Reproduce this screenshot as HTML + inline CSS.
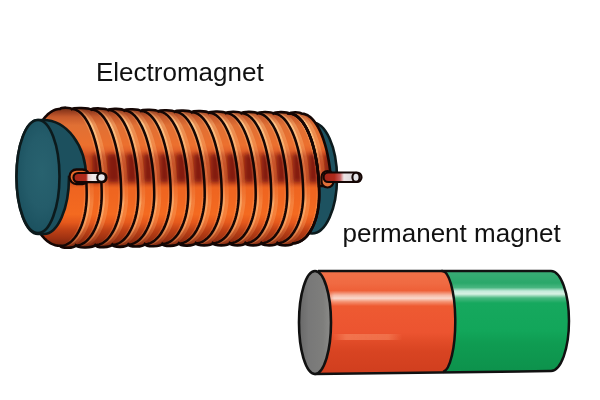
<!DOCTYPE html>
<html><head><meta charset="utf-8"><style>
html,body{margin:0;padding:0;background:#fff;}
body{width:600px;height:400px;overflow:hidden;position:relative;}
svg{position:absolute;left:0;top:0;}
text{font-family:"Liberation Sans",sans-serif;}
</style></head><body>
<svg width="600" height="400" viewBox="0 0 600 400">
<defs>
<linearGradient id="copper" gradientUnits="userSpaceOnUse" x1="0" y1="107" x2="0" y2="248">
<stop offset="0" stop-color="#6a2a14"/>
<stop offset="0.035" stop-color="#9a4020"/>
<stop offset="0.07" stop-color="#c65a2c"/>
<stop offset="0.13" stop-color="#e07034"/>
<stop offset="0.27" stop-color="#ec702e"/>
<stop offset="0.31" stop-color="#e2622a"/>
<stop offset="0.35" stop-color="#c84c22"/>
<stop offset="0.53" stop-color="#c84c20"/>
<stop offset="0.575" stop-color="#ee6420"/>
<stop offset="0.76" stop-color="#f46a20"/>
<stop offset="0.82" stop-color="#e4581c"/>
<stop offset="0.87" stop-color="#c04216"/>
<stop offset="0.93" stop-color="#a03212"/>
<stop offset="1" stop-color="#6a200c"/>
</linearGradient>
<linearGradient id="peachg" gradientUnits="userSpaceOnUse" x1="0" y1="107" x2="0" y2="248">
<stop offset="0" stop-color="#f8b070" stop-opacity="0"/>
<stop offset="0.04" stop-color="#f8b070" stop-opacity="0.3"/>
<stop offset="0.12" stop-color="#fcc488" stop-opacity="1"/>
<stop offset="0.30" stop-color="#f8b070" stop-opacity="0.9"/>
<stop offset="0.40" stop-color="#f09058" stop-opacity="0.55"/>
<stop offset="0.55" stop-color="#f09058" stop-opacity="0.45"/>
<stop offset="0.68" stop-color="#f8a868" stop-opacity="0.95"/>
<stop offset="0.85" stop-color="#f8a868" stop-opacity="0.8"/>
<stop offset="0.95" stop-color="#f09858" stop-opacity="0.4"/>
<stop offset="1" stop-color="#f8a868" stop-opacity="0"/>
</linearGradient>
<filter id="blur3" x="-50%" y="-50%" width="200%" height="200%"><feGaussianBlur stdDeviation="2.0"/></filter>
<filter id="blur05"><feGaussianBlur stdDeviation="0.6"/></filter>
<clipPath id="bodyclip"><path d="M60.00,245.80 L58.82,245.76 L57.65,245.64 L56.47,245.45 L55.31,245.17 L54.15,244.82 L53.00,244.40 L51.86,243.89 L50.73,243.31 L49.62,242.66 L48.52,241.93 L47.44,241.13 L46.38,240.26 L45.34,239.32 L44.33,238.31 L43.33,237.24 L42.37,236.10 L41.43,234.89 L40.52,233.63 L39.64,232.30 L38.79,230.92 L37.97,229.48 L37.19,227.99 L36.44,226.45 L35.73,224.86 L35.06,223.22 L34.42,221.54 L33.83,219.82 L33.27,218.06 L32.76,216.27 L32.28,214.44 L31.85,212.58 L31.47,210.70 L31.13,208.79 L30.83,206.86 L30.58,204.91 L30.37,202.95 L30.21,200.97 L30.09,198.99 L30.02,196.99 L30.00,195.00 L25.03,191.62 L25.11,188.25 L25.24,184.89 L25.43,181.55 L25.67,178.22 L25.97,174.92 L26.31,171.66 L26.71,168.42 L27.16,165.23 L27.66,162.09 L28.21,159.00 L28.81,155.96 L29.46,152.98 L30.16,150.07 L30.90,147.22 L31.68,144.45 L32.51,141.76 L33.39,139.15 L34.30,136.62 L35.25,134.19 L36.24,131.85 L37.27,129.61 L38.33,127.46 L39.43,125.42 L40.56,123.49 L41.71,121.67 L42.90,119.97 L44.11,118.37 L45.35,116.90 L46.61,115.55 L47.89,114.32 L49.18,113.21 L50.50,112.23 L51.83,111.38 L53.17,110.65 L54.52,110.06 L55.89,109.60 L57.25,109.27 L58.63,109.07 L60.00,109.00 C61.40,107.20 70.30,107.25 71.70,109.05 C74.04,107.25 88.86,107.77 91.20,109.57 C93.24,107.77 106.16,108.22 108.20,110.02 C110.12,108.22 122.28,108.65 124.20,110.45 C126.18,108.65 138.72,109.09 140.70,110.89 C142.80,109.09 156.10,109.55 158.20,111.35 C160.18,109.55 172.72,109.99 174.70,111.79 C176.74,109.99 189.66,110.45 191.70,112.25 C193.74,110.45 206.66,110.90 208.70,112.70 C210.74,110.90 223.66,111.24 225.70,113.04 C227.56,111.24 239.34,111.36 241.20,113.16 C243.12,111.36 255.28,111.48 257.20,113.28 C259.12,111.48 271.28,111.60 273.20,113.40 C275.12,111.60 287.28,111.72 289.20,113.52 L289.20,113.52 L290.41,113.59 L291.61,113.78 L292.82,114.11 L294.01,114.57 L295.20,115.17 L296.38,115.89 L297.55,116.74 L298.70,117.71 L299.84,118.81 L300.96,120.04 L302.06,121.39 L303.14,122.85 L304.20,124.44 L305.23,126.13 L306.24,127.94 L307.22,129.86 L308.17,131.88 L309.09,134.01 L309.98,136.24 L310.84,138.56 L311.66,140.97 L312.44,143.47 L313.18,146.05 L313.89,148.71 L314.56,151.45 L315.18,154.26 L315.76,157.13 L316.30,160.07 L316.80,163.06 L317.25,166.11 L317.66,169.20 L318.02,172.33 L318.33,175.50 L318.59,178.70 L318.81,181.93 L318.98,185.18 L319.10,188.44 L319.18,191.72 L319.20,195.00 L319.16,197.61 L319.05,200.21 L318.86,202.80 L318.59,205.36 L318.25,207.89 L317.84,210.39 L317.35,212.84 L316.80,215.24 L316.17,217.58 L315.48,219.85 L314.72,222.05 L313.90,224.17 L313.02,226.20 L312.08,228.15 L311.08,229.99 L310.03,231.74 L308.93,233.37 L307.79,234.89 L306.60,236.30 L305.38,237.59 L304.12,238.75 L302.82,239.78 L301.50,240.68 L300.16,241.44 L298.79,242.07 L297.41,242.57 L296.01,242.92 L294.61,243.13 L293.20,243.20 C291.28,246.08 279.12,246.08 277.20,243.20 C275.28,246.08 263.12,246.08 261.20,243.20 C259.28,246.08 247.12,246.08 245.20,243.20 C243.34,246.08 231.56,246.08 229.70,243.20 C227.66,246.08 214.74,246.08 212.70,243.20 C210.66,246.08 197.74,246.16 195.70,243.28 C193.66,246.16 180.74,246.48 178.70,243.60 C176.72,246.48 164.18,246.78 162.20,243.90 C160.10,246.78 146.80,247.11 144.70,244.23 C142.72,247.11 130.18,247.41 128.20,244.53 C126.28,247.41 114.12,247.71 112.20,244.83 C110.16,247.71 97.24,248.03 95.20,245.15 C92.86,248.03 78.04,248.39 75.70,245.51 C73.82,248.39 61.88,248.68 60.00,245.80 Z"/><path d="M289.20,113.52 C290.68,111.72 300.02,111.81 301.50,113.61 L301.50,113.61 L302.71,113.68 L303.91,113.88 L305.12,114.20 L306.31,114.67 L307.50,115.26 L308.68,115.98 L309.85,116.82 L311.00,117.80 L312.14,118.90 L313.26,120.12 L314.36,121.47 L315.44,122.93 L316.50,124.52 L317.53,126.21 L318.54,128.02 L319.52,129.93 L320.47,131.96 L321.39,134.08 L322.28,136.30 L323.14,138.62 L323.96,141.03 L324.74,143.53 L325.48,146.11 L326.19,148.77 L326.86,151.50 L327.48,154.31 L328.06,157.18 L328.60,160.11 L329.10,163.10 L329.55,166.14 L329.96,169.23 L330.32,172.36 L330.63,175.52 L330.89,178.72 C331.20,184 329.50,186.00 326,186.00 L318.98,186.00 L318.98,185.18 L318.81,181.93 L318.59,178.70 L318.33,175.50 L318.02,172.33 L317.66,169.20 L317.25,166.11 L316.80,163.06 L316.30,160.07 L315.76,157.13 L315.18,154.26 L314.56,151.45 L313.89,148.71 L313.18,146.05 L312.44,143.47 L311.66,140.97 L310.84,138.56 L309.98,136.24 L309.09,134.01 L308.17,131.88 L307.22,129.86 L306.24,127.94 L305.23,126.13 L304.20,124.44 L303.14,122.85 L302.06,121.39 L300.96,120.04 L299.84,118.81 L298.70,117.71 L297.55,116.74 L296.38,115.89 L295.20,115.17 L294.01,114.57 L292.82,114.11 L291.61,113.78 L290.41,113.59 L289.20,113.52 Z"/></clipPath>
<radialGradient id="teal" gradientUnits="userSpaceOnUse" cx="42" cy="172" r="60" gradientTransform="translate(42 172) scale(0.45 1) translate(-42 -172)">
<stop offset="0" stop-color="#28626f"/>
<stop offset="0.6" stop-color="#245c6a"/>
<stop offset="1" stop-color="#1c5260"/>
</radialGradient>
<linearGradient id="redg" gradientUnits="userSpaceOnUse" x1="0" y1="271" x2="0" y2="374">
<stop offset="0" stop-color="#f27248"/>
<stop offset="0.12" stop-color="#f06a42"/>
<stop offset="0.19" stop-color="#ee6038"/>
<stop offset="0.235" stop-color="#f6b8a4"/>
<stop offset="0.265" stop-color="#fad8cc"/>
<stop offset="0.30" stop-color="#f49070"/>
<stop offset="0.34" stop-color="#ee5a32"/>
<stop offset="0.6" stop-color="#ec5430"/>
<stop offset="0.68" stop-color="#e24c28"/>
<stop offset="0.78" stop-color="#d84422"/>
<stop offset="1" stop-color="#d03e1e"/>
</linearGradient>
<linearGradient id="redstreak2" x1="0" y1="0" x2="1" y2="0">
<stop offset="0" stop-color="#f47c56" stop-opacity="0"/>
<stop offset="0.2" stop-color="#f47c56" stop-opacity="0.8"/>
<stop offset="0.8" stop-color="#f47c56" stop-opacity="0.7"/>
<stop offset="1" stop-color="#f47c56" stop-opacity="0"/>
</linearGradient>
<linearGradient id="wireL" gradientUnits="userSpaceOnUse" x1="73" y1="0" x2="106" y2="0">
<stop offset="0" stop-color="#a82818"/>
<stop offset="0.4" stop-color="#b02a1c"/>
<stop offset="0.46" stop-color="#e8c8c8"/>
<stop offset="0.6" stop-color="#f2eaea"/>
<stop offset="1" stop-color="#d8d4d8"/>
</linearGradient>
<linearGradient id="wireR" gradientUnits="userSpaceOnUse" x1="323" y1="0" x2="361" y2="0">
<stop offset="0" stop-color="#a02418"/>
<stop offset="0.3" stop-color="#b02a1c"/>
<stop offset="0.45" stop-color="#c86060"/>
<stop offset="0.55" stop-color="#ece4e4"/>
<stop offset="0.8" stop-color="#d8d4d8"/>
<stop offset="1" stop-color="#c8c8cc"/>
</linearGradient>
<linearGradient id="redfade" x1="0" y1="0" x2="1" y2="0">
<stop offset="0" stop-color="#ee5a32" stop-opacity="0.8"/>
<stop offset="0.15" stop-color="#ee5a32" stop-opacity="0"/>
<stop offset="1" stop-color="#ee5a32" stop-opacity="0"/>
</linearGradient>
<linearGradient id="greeng" gradientUnits="userSpaceOnUse" x1="0" y1="271" x2="0" y2="371">
<stop offset="0" stop-color="#3aac76"/>
<stop offset="0.12" stop-color="#2aa86a"/>
<stop offset="0.165" stop-color="#48b680"/>
<stop offset="0.20" stop-color="#c4eada"/>
<stop offset="0.23" stop-color="#d8f2e4"/>
<stop offset="0.27" stop-color="#48b880"/>
<stop offset="0.32" stop-color="#16a85e"/>
<stop offset="0.6" stop-color="#12a65a"/>
<stop offset="0.72" stop-color="#0f9c52"/>
<stop offset="1" stop-color="#0d924c"/>
</linearGradient>
<linearGradient id="greyg" x1="0" y1="0" x2="1" y2="0">
<stop offset="0" stop-color="#686868"/>
<stop offset="0.3" stop-color="#787878"/>
<stop offset="0.75" stop-color="#7e7e7c"/>
<stop offset="1" stop-color="#8c8c8a"/>
</linearGradient>
</defs>

<g style="will-change:transform"><text x="96" y="80.5" font-size="26" fill="#111">Electromagnet</text>
<text x="342.5" y="241.5" font-size="26" fill="#111">permanent magnet</text></g>

<!-- back teal disk -->
<ellipse cx="312" cy="178" rx="25" ry="55.5" fill="#1d5260" stroke="#0c1a1c" stroke-width="2.6"/>

<!-- coil body -->
<path d="M289.20,113.52 C290.68,111.72 300.02,111.81 301.50,113.61 L301.50,113.61 L302.71,113.68 L303.91,113.88 L305.12,114.20 L306.31,114.67 L307.50,115.26 L308.68,115.98 L309.85,116.82 L311.00,117.80 L312.14,118.90 L313.26,120.12 L314.36,121.47 L315.44,122.93 L316.50,124.52 L317.53,126.21 L318.54,128.02 L319.52,129.93 L320.47,131.96 L321.39,134.08 L322.28,136.30 L323.14,138.62 L323.96,141.03 L324.74,143.53 L325.48,146.11 L326.19,148.77 L326.86,151.50 L327.48,154.31 L328.06,157.18 L328.60,160.11 L329.10,163.10 L329.55,166.14 L329.96,169.23 L330.32,172.36 L330.63,175.52 L330.89,178.72 C331.20,184 329.50,186.00 326,186.00 L318.98,186.00 L318.98,185.18 L318.81,181.93 L318.59,178.70 L318.33,175.50 L318.02,172.33 L317.66,169.20 L317.25,166.11 L316.80,163.06 L316.30,160.07 L315.76,157.13 L315.18,154.26 L314.56,151.45 L313.89,148.71 L313.18,146.05 L312.44,143.47 L311.66,140.97 L310.84,138.56 L309.98,136.24 L309.09,134.01 L308.17,131.88 L307.22,129.86 L306.24,127.94 L305.23,126.13 L304.20,124.44 L303.14,122.85 L302.06,121.39 L300.96,120.04 L299.84,118.81 L298.70,117.71 L297.55,116.74 L296.38,115.89 L295.20,115.17 L294.01,114.57 L292.82,114.11 L291.61,113.78 L290.41,113.59 L289.20,113.52 Z" fill="url(#copper)"/>
<path d="M60.00,245.80 L58.82,245.76 L57.65,245.64 L56.47,245.45 L55.31,245.17 L54.15,244.82 L53.00,244.40 L51.86,243.89 L50.73,243.31 L49.62,242.66 L48.52,241.93 L47.44,241.13 L46.38,240.26 L45.34,239.32 L44.33,238.31 L43.33,237.24 L42.37,236.10 L41.43,234.89 L40.52,233.63 L39.64,232.30 L38.79,230.92 L37.97,229.48 L37.19,227.99 L36.44,226.45 L35.73,224.86 L35.06,223.22 L34.42,221.54 L33.83,219.82 L33.27,218.06 L32.76,216.27 L32.28,214.44 L31.85,212.58 L31.47,210.70 L31.13,208.79 L30.83,206.86 L30.58,204.91 L30.37,202.95 L30.21,200.97 L30.09,198.99 L30.02,196.99 L30.00,195.00 L25.03,191.62 L25.11,188.25 L25.24,184.89 L25.43,181.55 L25.67,178.22 L25.97,174.92 L26.31,171.66 L26.71,168.42 L27.16,165.23 L27.66,162.09 L28.21,159.00 L28.81,155.96 L29.46,152.98 L30.16,150.07 L30.90,147.22 L31.68,144.45 L32.51,141.76 L33.39,139.15 L34.30,136.62 L35.25,134.19 L36.24,131.85 L37.27,129.61 L38.33,127.46 L39.43,125.42 L40.56,123.49 L41.71,121.67 L42.90,119.97 L44.11,118.37 L45.35,116.90 L46.61,115.55 L47.89,114.32 L49.18,113.21 L50.50,112.23 L51.83,111.38 L53.17,110.65 L54.52,110.06 L55.89,109.60 L57.25,109.27 L58.63,109.07 L60.00,109.00 C61.40,107.20 70.30,107.25 71.70,109.05 C74.04,107.25 88.86,107.77 91.20,109.57 C93.24,107.77 106.16,108.22 108.20,110.02 C110.12,108.22 122.28,108.65 124.20,110.45 C126.18,108.65 138.72,109.09 140.70,110.89 C142.80,109.09 156.10,109.55 158.20,111.35 C160.18,109.55 172.72,109.99 174.70,111.79 C176.74,109.99 189.66,110.45 191.70,112.25 C193.74,110.45 206.66,110.90 208.70,112.70 C210.74,110.90 223.66,111.24 225.70,113.04 C227.56,111.24 239.34,111.36 241.20,113.16 C243.12,111.36 255.28,111.48 257.20,113.28 C259.12,111.48 271.28,111.60 273.20,113.40 C275.12,111.60 287.28,111.72 289.20,113.52 L289.20,113.52 L290.41,113.59 L291.61,113.78 L292.82,114.11 L294.01,114.57 L295.20,115.17 L296.38,115.89 L297.55,116.74 L298.70,117.71 L299.84,118.81 L300.96,120.04 L302.06,121.39 L303.14,122.85 L304.20,124.44 L305.23,126.13 L306.24,127.94 L307.22,129.86 L308.17,131.88 L309.09,134.01 L309.98,136.24 L310.84,138.56 L311.66,140.97 L312.44,143.47 L313.18,146.05 L313.89,148.71 L314.56,151.45 L315.18,154.26 L315.76,157.13 L316.30,160.07 L316.80,163.06 L317.25,166.11 L317.66,169.20 L318.02,172.33 L318.33,175.50 L318.59,178.70 L318.81,181.93 L318.98,185.18 L319.10,188.44 L319.18,191.72 L319.20,195.00 L319.16,197.61 L319.05,200.21 L318.86,202.80 L318.59,205.36 L318.25,207.89 L317.84,210.39 L317.35,212.84 L316.80,215.24 L316.17,217.58 L315.48,219.85 L314.72,222.05 L313.90,224.17 L313.02,226.20 L312.08,228.15 L311.08,229.99 L310.03,231.74 L308.93,233.37 L307.79,234.89 L306.60,236.30 L305.38,237.59 L304.12,238.75 L302.82,239.78 L301.50,240.68 L300.16,241.44 L298.79,242.07 L297.41,242.57 L296.01,242.92 L294.61,243.13 L293.20,243.20 C291.28,246.08 279.12,246.08 277.20,243.20 C275.28,246.08 263.12,246.08 261.20,243.20 C259.28,246.08 247.12,246.08 245.20,243.20 C243.34,246.08 231.56,246.08 229.70,243.20 C227.66,246.08 214.74,246.08 212.70,243.20 C210.66,246.08 197.74,246.16 195.70,243.28 C193.66,246.16 180.74,246.48 178.70,243.60 C176.72,246.48 164.18,246.78 162.20,243.90 C160.10,246.78 146.80,247.11 144.70,244.23 C142.72,247.11 130.18,247.41 128.20,244.53 C126.28,247.41 114.12,247.71 112.20,244.83 C110.16,247.71 97.24,248.03 95.20,245.15 C92.86,248.03 78.04,248.39 75.70,245.51 C73.82,248.39 61.88,248.68 60.00,245.80 Z" fill="url(#copper)"/>
<g clip-path="url(#bodyclip)">
<g fill="#7a1808" filter="url(#blur3)" opacity="0.9">
<rect x="92.20" y="154" width="8.50" height="28" rx="2"/>
<rect x="107.20" y="154" width="13.00" height="28" rx="2"/>
<rect x="126.70" y="154" width="10.50" height="28" rx="2"/>
<rect x="143.70" y="154" width="9.50" height="28" rx="2"/>
<rect x="159.70" y="154" width="10.00" height="28" rx="2"/>
<rect x="176.20" y="154" width="11.00" height="28" rx="2"/>
<rect x="193.70" y="154" width="10.00" height="28" rx="2"/>
<rect x="210.20" y="154" width="10.50" height="28" rx="2"/>
<rect x="227.20" y="154" width="10.50" height="28" rx="2"/>
<rect x="244.20" y="154" width="10.50" height="28" rx="2"/>
<rect x="261.20" y="154" width="9.00" height="28" rx="2"/>
<rect x="276.70" y="154" width="9.50" height="28" rx="2"/>
<rect x="292.70" y="154" width="9.50" height="28" rx="2"/>
<rect x="308.70" y="154" width="9.50" height="28" rx="2"/>
<rect x="324.70" y="154" width="5.30" height="28" rx="2"/>
</g>
<g fill="none" stroke="url(#peachg)" filter="url(#blur05)">
<path d="M88.29,177.80 L88.51,181.20 L88.68,184.63 L88.80,188.08 L88.88,191.54 L88.90,195.00 L88.86,197.75 L88.75,200.49 L88.56,203.22 L88.29,205.92 L87.95,208.59 L87.54,211.22 L87.05,213.80 L86.50,216.32 L85.87,218.79 L85.18,221.18 L84.42,223.50 L83.60,225.73 L82.72,227.88 L81.78,229.93 L80.78,231.87 L79.73,233.71 L78.63,235.43 L77.49,237.04 L76.30,238.52 L75.08,239.87 L73.82,241.09 L72.52,242.18 L71.20,243.13 L69.86,243.94 L68.49,244.60 L67.11,245.12 L65.71,245.49 L64.31,245.71 L62.90,245.79" stroke-width="2.4"/>
<path d="M91.09,177.80 L91.31,181.20 L91.48,184.63 L91.60,188.08 L91.68,191.54 L91.70,195.00 L91.66,197.75 L91.55,200.49 L91.36,203.22 L91.09,205.92 L90.75,208.59 L90.34,211.22 L89.85,213.80 L89.30,216.32 L88.67,218.79 L87.98,221.18 L87.22,223.50 L86.40,225.73 L85.52,227.88 L84.58,229.93 L83.58,231.87 L82.53,233.71 L81.43,235.43 L80.29,237.04 L79.10,238.52 L77.88,239.87 L76.62,241.09 L75.32,242.18 L74.00,243.13 L72.66,243.94 L71.29,244.60 L69.91,245.12 L68.51,245.49 L67.11,245.71 L65.70,245.79" stroke-width="4" stroke-opacity="0.4"/>
<path d="M84.09,177.80 L84.31,181.20 L84.48,184.63 L84.60,188.08 L84.68,191.54 L84.70,195.00 L84.66,197.75 L84.55,200.49 L84.36,203.22 L84.09,205.92 L83.75,208.59 L83.34,211.22 L82.85,213.80 L82.30,216.32 L81.67,218.79 L80.98,221.18 L80.22,223.50 L79.40,225.73 L78.52,227.88 L77.58,229.93 L76.58,231.87 L75.53,233.71 L74.43,235.43 L73.29,237.04 L72.10,238.52 L70.88,239.87 L69.62,241.09 L68.32,242.18 L67.00,243.13 L65.66,243.94 L64.29,244.60 L62.91,245.12 L61.51,245.49 L60.11,245.71 L58.70,245.79" stroke-width="1.5" stroke-opacity="0.35"/>
<path d="M73.90,109.05 L75.11,109.12 L76.31,109.32 L77.52,109.67 L78.71,110.16 L79.90,110.78 L81.08,111.54 L82.25,112.44 L83.40,113.47 L84.54,114.63 L85.66,115.92 L86.76,117.34 L87.84,118.89 L88.90,120.56 L89.93,122.35 L90.94,124.26 L91.92,126.28 L92.87,128.42 L93.79,130.66 L94.68,133.01 L95.54,135.46 L96.36,138.00 L97.14,140.64 L97.88,143.36 L98.59,146.17 L99.26,149.06 L99.88,152.02 L100.46,155.05 L101.00,158.15 L101.50,161.31 L101.95,164.52 L102.36,167.78 L102.72,171.09 L103.03,174.43 L103.29,177.81 L103.51,181.21 L103.68,184.64 L103.80,188.08 L103.88,191.54 L103.90,195.00 L103.86,197.73 L103.75,200.46 L103.56,203.17 L103.29,205.86 L102.95,208.51 L102.54,211.13 L102.05,213.70 L101.50,216.21 L100.87,218.66 L100.18,221.04 L99.42,223.34 L98.60,225.57 L97.72,227.70 L96.78,229.73 L95.78,231.67 L94.73,233.50 L93.63,235.21 L92.49,236.81 L91.30,238.28 L90.08,239.62 L88.82,240.84 L87.52,241.92 L86.20,242.86 L84.86,243.67 L83.49,244.33 L82.11,244.84 L80.71,245.21 L79.31,245.43 L77.90,245.51" stroke-width="2.4"/>
<path d="M76.70,109.05 L77.91,109.12 L79.11,109.32 L80.32,109.67 L81.51,110.16 L82.70,110.78 L83.88,111.54 L85.05,112.44 L86.20,113.47 L87.34,114.63 L88.46,115.92 L89.56,117.34 L90.64,118.89 L91.70,120.56 L92.73,122.35 L93.74,124.26 L94.72,126.28 L95.67,128.42 L96.59,130.66 L97.48,133.01 L98.34,135.46 L99.16,138.00 L99.94,140.64 L100.68,143.36 L101.39,146.17 L102.06,149.06 L102.68,152.02 L103.26,155.05 L103.80,158.15 L104.30,161.31 L104.75,164.52 L105.16,167.78 L105.52,171.09 L105.83,174.43 L106.09,177.81 L106.31,181.21 L106.48,184.64 L106.60,188.08 L106.68,191.54 L106.70,195.00 L106.66,197.73 L106.55,200.46 L106.36,203.17 L106.09,205.86 L105.75,208.51 L105.34,211.13 L104.85,213.70 L104.30,216.21 L103.67,218.66 L102.98,221.04 L102.22,223.34 L101.40,225.57 L100.52,227.70 L99.58,229.73 L98.58,231.67 L97.53,233.50 L96.43,235.21 L95.29,236.81 L94.10,238.28 L92.88,239.62 L91.62,240.84 L90.32,241.92 L89.00,242.86 L87.66,243.67 L86.29,244.33 L84.91,244.84 L83.51,245.21 L82.11,245.43 L80.70,245.51" stroke-width="4" stroke-opacity="0.4"/>
<path d="M69.70,109.05 L70.91,109.12 L72.11,109.32 L73.32,109.67 L74.51,110.16 L75.70,110.78 L76.88,111.54 L78.05,112.44 L79.20,113.47 L80.34,114.63 L81.46,115.92 L82.56,117.34 L83.64,118.89 L84.70,120.56 L85.73,122.35 L86.74,124.26 L87.72,126.28 L88.67,128.42 L89.59,130.66 L90.48,133.01 L91.34,135.46 L92.16,138.00 L92.94,140.64 L93.68,143.36 L94.39,146.17 L95.06,149.06 L95.68,152.02 L96.26,155.05 L96.80,158.15 L97.30,161.31 L97.75,164.52 L98.16,167.78 L98.52,171.09 L98.83,174.43 L99.09,177.81 L99.31,181.21 L99.48,184.64 L99.60,188.08 L99.68,191.54 L99.70,195.00 L99.66,197.73 L99.55,200.46 L99.36,203.17 L99.09,205.86 L98.75,208.51 L98.34,211.13 L97.85,213.70 L97.30,216.21 L96.67,218.66 L95.98,221.04 L95.22,223.34 L94.40,225.57 L93.52,227.70 L92.58,229.73 L91.58,231.67 L90.53,233.50 L89.43,235.21 L88.29,236.81 L87.10,238.28 L85.88,239.62 L84.62,240.84 L83.32,241.92 L82.00,242.86 L80.66,243.67 L79.29,244.33 L77.91,244.84 L76.51,245.21 L75.11,245.43 L73.70,245.51" stroke-width="1.5" stroke-opacity="0.35"/>
<path d="M93.40,109.57 L94.61,109.63 L95.81,109.84 L97.02,110.19 L98.21,110.67 L99.40,111.29 L100.58,112.05 L101.75,112.94 L102.90,113.96 L104.04,115.12 L105.16,116.40 L106.26,117.81 L107.34,119.35 L108.40,121.01 L109.43,122.79 L110.44,124.69 L111.42,126.70 L112.37,128.82 L113.29,131.05 L114.18,133.38 L115.04,135.82 L115.86,138.35 L116.64,140.97 L117.38,143.68 L118.09,146.47 L118.76,149.34 L119.38,152.28 L119.96,155.30 L120.50,158.37 L121.00,161.51 L121.45,164.70 L121.86,167.95 L122.22,171.23 L122.53,174.55 L122.79,177.91 L123.01,181.30 L123.18,184.70 L123.30,188.13 L123.38,191.56 L123.40,195.00 L123.36,197.71 L123.25,200.42 L123.06,203.11 L122.79,205.78 L122.45,208.42 L122.04,211.01 L121.55,213.56 L121.00,216.06 L120.37,218.49 L119.68,220.85 L118.92,223.14 L118.10,225.35 L117.22,227.46 L116.28,229.49 L115.28,231.41 L114.23,233.22 L113.13,234.92 L111.99,236.51 L110.80,237.97 L109.58,239.30 L108.32,240.51 L107.02,241.58 L105.70,242.52 L104.36,243.32 L102.99,243.97 L101.61,244.49 L100.21,244.85 L98.81,245.07 L97.40,245.15" stroke-width="2.4"/>
<path d="M96.20,109.57 L97.41,109.63 L98.61,109.84 L99.82,110.19 L101.01,110.67 L102.20,111.29 L103.38,112.05 L104.55,112.94 L105.70,113.96 L106.84,115.12 L107.96,116.40 L109.06,117.81 L110.14,119.35 L111.20,121.01 L112.23,122.79 L113.24,124.69 L114.22,126.70 L115.17,128.82 L116.09,131.05 L116.98,133.38 L117.84,135.82 L118.66,138.35 L119.44,140.97 L120.18,143.68 L120.89,146.47 L121.56,149.34 L122.18,152.28 L122.76,155.30 L123.30,158.37 L123.80,161.51 L124.25,164.70 L124.66,167.95 L125.02,171.23 L125.33,174.55 L125.59,177.91 L125.81,181.30 L125.98,184.70 L126.10,188.13 L126.18,191.56 L126.20,195.00 L126.16,197.71 L126.05,200.42 L125.86,203.11 L125.59,205.78 L125.25,208.42 L124.84,211.01 L124.35,213.56 L123.80,216.06 L123.17,218.49 L122.48,220.85 L121.72,223.14 L120.90,225.35 L120.02,227.46 L119.08,229.49 L118.08,231.41 L117.03,233.22 L115.93,234.92 L114.79,236.51 L113.60,237.97 L112.38,239.30 L111.12,240.51 L109.82,241.58 L108.50,242.52 L107.16,243.32 L105.79,243.97 L104.41,244.49 L103.01,244.85 L101.61,245.07 L100.20,245.15" stroke-width="4" stroke-opacity="0.4"/>
<path d="M89.20,109.57 L90.41,109.63 L91.61,109.84 L92.82,110.19 L94.01,110.67 L95.20,111.29 L96.38,112.05 L97.55,112.94 L98.70,113.96 L99.84,115.12 L100.96,116.40 L102.06,117.81 L103.14,119.35 L104.20,121.01 L105.23,122.79 L106.24,124.69 L107.22,126.70 L108.17,128.82 L109.09,131.05 L109.98,133.38 L110.84,135.82 L111.66,138.35 L112.44,140.97 L113.18,143.68 L113.89,146.47 L114.56,149.34 L115.18,152.28 L115.76,155.30 L116.30,158.37 L116.80,161.51 L117.25,164.70 L117.66,167.95 L118.02,171.23 L118.33,174.55 L118.59,177.91 L118.81,181.30 L118.98,184.70 L119.10,188.13 L119.18,191.56 L119.20,195.00 L119.16,197.71 L119.05,200.42 L118.86,203.11 L118.59,205.78 L118.25,208.42 L117.84,211.01 L117.35,213.56 L116.80,216.06 L116.17,218.49 L115.48,220.85 L114.72,223.14 L113.90,225.35 L113.02,227.46 L112.08,229.49 L111.08,231.41 L110.03,233.22 L108.93,234.92 L107.79,236.51 L106.60,237.97 L105.38,239.30 L104.12,240.51 L102.82,241.58 L101.50,242.52 L100.16,243.32 L98.79,243.97 L97.41,244.49 L96.01,244.85 L94.61,245.07 L93.20,245.15" stroke-width="1.5" stroke-opacity="0.35"/>
<path d="M110.40,110.02 L111.61,110.09 L112.81,110.29 L114.02,110.64 L115.21,111.12 L116.40,111.74 L117.58,112.49 L118.75,113.37 L119.90,114.39 L121.04,115.54 L122.16,116.82 L123.26,118.22 L124.34,119.75 L125.40,121.40 L126.43,123.17 L127.44,125.06 L128.42,127.06 L129.37,129.17 L130.29,131.39 L131.18,133.71 L132.04,136.13 L132.86,138.65 L133.64,141.25 L134.38,143.95 L135.09,146.73 L135.76,149.58 L136.38,152.51 L136.96,155.51 L137.50,158.57 L138.00,161.69 L138.45,164.87 L138.86,168.09 L139.22,171.36 L139.53,174.66 L139.79,178.00 L140.01,181.37 L140.18,184.76 L140.30,188.16 L140.38,191.58 L140.40,195.00 L140.36,197.70 L140.25,200.39 L140.06,203.06 L139.79,205.71 L139.45,208.33 L139.04,210.91 L138.55,213.44 L138.00,215.92 L137.37,218.34 L136.68,220.69 L135.92,222.96 L135.10,225.16 L134.22,227.26 L133.28,229.27 L132.28,231.18 L131.23,232.98 L130.13,234.67 L128.99,236.24 L127.80,237.70 L126.58,239.03 L125.32,240.23 L124.02,241.29 L122.70,242.22 L121.36,243.01 L119.99,243.67 L118.61,244.17 L117.21,244.54 L115.81,244.76 L114.40,244.83" stroke-width="2.4"/>
<path d="M113.20,110.02 L114.41,110.09 L115.61,110.29 L116.82,110.64 L118.01,111.12 L119.20,111.74 L120.38,112.49 L121.55,113.37 L122.70,114.39 L123.84,115.54 L124.96,116.82 L126.06,118.22 L127.14,119.75 L128.20,121.40 L129.23,123.17 L130.24,125.06 L131.22,127.06 L132.17,129.17 L133.09,131.39 L133.98,133.71 L134.84,136.13 L135.66,138.65 L136.44,141.25 L137.18,143.95 L137.89,146.73 L138.56,149.58 L139.18,152.51 L139.76,155.51 L140.30,158.57 L140.80,161.69 L141.25,164.87 L141.66,168.09 L142.02,171.36 L142.33,174.66 L142.59,178.00 L142.81,181.37 L142.98,184.76 L143.10,188.16 L143.18,191.58 L143.20,195.00 L143.16,197.70 L143.05,200.39 L142.86,203.06 L142.59,205.71 L142.25,208.33 L141.84,210.91 L141.35,213.44 L140.80,215.92 L140.17,218.34 L139.48,220.69 L138.72,222.96 L137.90,225.16 L137.02,227.26 L136.08,229.27 L135.08,231.18 L134.03,232.98 L132.93,234.67 L131.79,236.24 L130.60,237.70 L129.38,239.03 L128.12,240.23 L126.82,241.29 L125.50,242.22 L124.16,243.01 L122.79,243.67 L121.41,244.17 L120.01,244.54 L118.61,244.76 L117.20,244.83" stroke-width="4" stroke-opacity="0.4"/>
<path d="M106.20,110.02 L107.41,110.09 L108.61,110.29 L109.82,110.64 L111.01,111.12 L112.20,111.74 L113.38,112.49 L114.55,113.37 L115.70,114.39 L116.84,115.54 L117.96,116.82 L119.06,118.22 L120.14,119.75 L121.20,121.40 L122.23,123.17 L123.24,125.06 L124.22,127.06 L125.17,129.17 L126.09,131.39 L126.98,133.71 L127.84,136.13 L128.66,138.65 L129.44,141.25 L130.18,143.95 L130.89,146.73 L131.56,149.58 L132.18,152.51 L132.76,155.51 L133.30,158.57 L133.80,161.69 L134.25,164.87 L134.66,168.09 L135.02,171.36 L135.33,174.66 L135.59,178.00 L135.81,181.37 L135.98,184.76 L136.10,188.16 L136.18,191.58 L136.20,195.00 L136.16,197.70 L136.05,200.39 L135.86,203.06 L135.59,205.71 L135.25,208.33 L134.84,210.91 L134.35,213.44 L133.80,215.92 L133.17,218.34 L132.48,220.69 L131.72,222.96 L130.90,225.16 L130.02,227.26 L129.08,229.27 L128.08,231.18 L127.03,232.98 L125.93,234.67 L124.79,236.24 L123.60,237.70 L122.38,239.03 L121.12,240.23 L119.82,241.29 L118.50,242.22 L117.16,243.01 L115.79,243.67 L114.41,244.17 L113.01,244.54 L111.61,244.76 L110.20,244.83" stroke-width="1.5" stroke-opacity="0.35"/>
<path d="M126.40,110.45 L127.61,110.51 L128.81,110.72 L130.02,111.06 L131.21,111.54 L132.40,112.15 L133.58,112.90 L134.75,113.78 L135.90,114.80 L137.04,115.94 L138.16,117.21 L139.26,118.61 L140.34,120.13 L141.40,121.77 L142.43,123.54 L143.44,125.41 L144.42,127.40 L145.37,129.50 L146.29,131.71 L147.18,134.02 L148.04,136.43 L148.86,138.93 L149.64,141.52 L150.38,144.20 L151.09,146.97 L151.76,149.81 L152.38,152.72 L152.96,155.71 L153.50,158.75 L154.00,161.86 L154.45,165.02 L154.86,168.22 L155.22,171.48 L155.53,174.76 L155.79,178.09 L156.01,181.44 L156.18,184.81 L156.30,188.20 L156.38,191.60 L156.40,195.00 L156.36,197.68 L156.25,200.36 L156.06,203.01 L155.79,205.65 L155.45,208.25 L155.04,210.82 L154.55,213.33 L154.00,215.80 L153.37,218.20 L152.68,220.54 L151.92,222.80 L151.10,224.98 L150.22,227.07 L149.28,229.06 L148.28,230.96 L147.23,232.75 L146.13,234.43 L144.99,236.00 L143.80,237.44 L142.58,238.76 L141.32,239.96 L140.02,241.02 L138.70,241.94 L137.36,242.73 L135.99,243.38 L134.61,243.88 L133.21,244.24 L131.81,244.46 L130.40,244.53" stroke-width="2.4"/>
<path d="M129.20,110.45 L130.41,110.51 L131.61,110.72 L132.82,111.06 L134.01,111.54 L135.20,112.15 L136.38,112.90 L137.55,113.78 L138.70,114.80 L139.84,115.94 L140.96,117.21 L142.06,118.61 L143.14,120.13 L144.20,121.77 L145.23,123.54 L146.24,125.41 L147.22,127.40 L148.17,129.50 L149.09,131.71 L149.98,134.02 L150.84,136.43 L151.66,138.93 L152.44,141.52 L153.18,144.20 L153.89,146.97 L154.56,149.81 L155.18,152.72 L155.76,155.71 L156.30,158.75 L156.80,161.86 L157.25,165.02 L157.66,168.22 L158.02,171.48 L158.33,174.76 L158.59,178.09 L158.81,181.44 L158.98,184.81 L159.10,188.20 L159.18,191.60 L159.20,195.00 L159.16,197.68 L159.05,200.36 L158.86,203.01 L158.59,205.65 L158.25,208.25 L157.84,210.82 L157.35,213.33 L156.80,215.80 L156.17,218.20 L155.48,220.54 L154.72,222.80 L153.90,224.98 L153.02,227.07 L152.08,229.06 L151.08,230.96 L150.03,232.75 L148.93,234.43 L147.79,236.00 L146.60,237.44 L145.38,238.76 L144.12,239.96 L142.82,241.02 L141.50,241.94 L140.16,242.73 L138.79,243.38 L137.41,243.88 L136.01,244.24 L134.61,244.46 L133.20,244.53" stroke-width="4" stroke-opacity="0.4"/>
<path d="M122.20,110.45 L123.41,110.51 L124.61,110.72 L125.82,111.06 L127.01,111.54 L128.20,112.15 L129.38,112.90 L130.55,113.78 L131.70,114.80 L132.84,115.94 L133.96,117.21 L135.06,118.61 L136.14,120.13 L137.20,121.77 L138.23,123.54 L139.24,125.41 L140.22,127.40 L141.17,129.50 L142.09,131.71 L142.98,134.02 L143.84,136.43 L144.66,138.93 L145.44,141.52 L146.18,144.20 L146.89,146.97 L147.56,149.81 L148.18,152.72 L148.76,155.71 L149.30,158.75 L149.80,161.86 L150.25,165.02 L150.66,168.22 L151.02,171.48 L151.33,174.76 L151.59,178.09 L151.81,181.44 L151.98,184.81 L152.10,188.20 L152.18,191.60 L152.20,195.00 L152.16,197.68 L152.05,200.36 L151.86,203.01 L151.59,205.65 L151.25,208.25 L150.84,210.82 L150.35,213.33 L149.80,215.80 L149.17,218.20 L148.48,220.54 L147.72,222.80 L146.90,224.98 L146.02,227.07 L145.08,229.06 L144.08,230.96 L143.03,232.75 L141.93,234.43 L140.79,236.00 L139.60,237.44 L138.38,238.76 L137.12,239.96 L135.82,241.02 L134.50,241.94 L133.16,242.73 L131.79,243.38 L130.41,243.88 L129.01,244.24 L127.61,244.46 L126.20,244.53" stroke-width="1.5" stroke-opacity="0.35"/>
<path d="M142.90,110.89 L144.11,110.95 L145.31,111.16 L146.52,111.50 L147.71,111.97 L148.90,112.59 L150.08,113.33 L151.25,114.21 L152.40,115.21 L153.54,116.35 L154.66,117.62 L155.76,119.01 L156.84,120.52 L157.90,122.15 L158.93,123.91 L159.94,125.77 L160.92,127.76 L161.87,129.84 L162.79,132.04 L163.68,134.34 L164.54,136.73 L165.36,139.22 L166.14,141.80 L166.88,144.47 L167.59,147.22 L168.26,150.04 L168.88,152.94 L169.46,155.91 L170.00,158.94 L170.50,162.03 L170.95,165.17 L171.36,168.36 L171.72,171.60 L172.03,174.87 L172.29,178.17 L172.51,181.51 L172.68,184.86 L172.80,188.23 L172.88,191.61 L172.90,195.00 L172.86,197.67 L172.75,200.32 L172.56,202.96 L172.29,205.58 L171.95,208.17 L171.54,210.72 L171.05,213.22 L170.50,215.67 L169.87,218.06 L169.18,220.38 L168.42,222.63 L167.60,224.79 L166.72,226.87 L165.78,228.85 L164.78,230.74 L163.73,232.52 L162.63,234.19 L161.49,235.74 L160.30,237.18 L159.08,238.49 L157.82,239.68 L156.52,240.73 L155.20,241.65 L153.86,242.43 L152.49,243.08 L151.11,243.58 L149.71,243.94 L148.31,244.15 L146.90,244.23" stroke-width="2.4"/>
<path d="M145.70,110.89 L146.91,110.95 L148.11,111.16 L149.32,111.50 L150.51,111.97 L151.70,112.59 L152.88,113.33 L154.05,114.21 L155.20,115.21 L156.34,116.35 L157.46,117.62 L158.56,119.01 L159.64,120.52 L160.70,122.15 L161.73,123.91 L162.74,125.77 L163.72,127.76 L164.67,129.84 L165.59,132.04 L166.48,134.34 L167.34,136.73 L168.16,139.22 L168.94,141.80 L169.68,144.47 L170.39,147.22 L171.06,150.04 L171.68,152.94 L172.26,155.91 L172.80,158.94 L173.30,162.03 L173.75,165.17 L174.16,168.36 L174.52,171.60 L174.83,174.87 L175.09,178.17 L175.31,181.51 L175.48,184.86 L175.60,188.23 L175.68,191.61 L175.70,195.00 L175.66,197.67 L175.55,200.32 L175.36,202.96 L175.09,205.58 L174.75,208.17 L174.34,210.72 L173.85,213.22 L173.30,215.67 L172.67,218.06 L171.98,220.38 L171.22,222.63 L170.40,224.79 L169.52,226.87 L168.58,228.85 L167.58,230.74 L166.53,232.52 L165.43,234.19 L164.29,235.74 L163.10,237.18 L161.88,238.49 L160.62,239.68 L159.32,240.73 L158.00,241.65 L156.66,242.43 L155.29,243.08 L153.91,243.58 L152.51,243.94 L151.11,244.15 L149.70,244.23" stroke-width="4" stroke-opacity="0.4"/>
<path d="M138.70,110.89 L139.91,110.95 L141.11,111.16 L142.32,111.50 L143.51,111.97 L144.70,112.59 L145.88,113.33 L147.05,114.21 L148.20,115.21 L149.34,116.35 L150.46,117.62 L151.56,119.01 L152.64,120.52 L153.70,122.15 L154.73,123.91 L155.74,125.77 L156.72,127.76 L157.67,129.84 L158.59,132.04 L159.48,134.34 L160.34,136.73 L161.16,139.22 L161.94,141.80 L162.68,144.47 L163.39,147.22 L164.06,150.04 L164.68,152.94 L165.26,155.91 L165.80,158.94 L166.30,162.03 L166.75,165.17 L167.16,168.36 L167.52,171.60 L167.83,174.87 L168.09,178.17 L168.31,181.51 L168.48,184.86 L168.60,188.23 L168.68,191.61 L168.70,195.00 L168.66,197.67 L168.55,200.32 L168.36,202.96 L168.09,205.58 L167.75,208.17 L167.34,210.72 L166.85,213.22 L166.30,215.67 L165.67,218.06 L164.98,220.38 L164.22,222.63 L163.40,224.79 L162.52,226.87 L161.58,228.85 L160.58,230.74 L159.53,232.52 L158.43,234.19 L157.29,235.74 L156.10,237.18 L154.88,238.49 L153.62,239.68 L152.32,240.73 L151.00,241.65 L149.66,242.43 L148.29,243.08 L146.91,243.58 L145.51,243.94 L144.11,244.15 L142.70,244.23" stroke-width="1.5" stroke-opacity="0.35"/>
<path d="M160.40,111.35 L161.61,111.42 L162.81,111.62 L164.02,111.96 L165.21,112.44 L166.40,113.04 L167.58,113.78 L168.75,114.65 L169.90,115.66 L171.04,116.79 L172.16,118.05 L173.26,119.43 L174.34,120.93 L175.40,122.56 L176.43,124.30 L177.44,126.16 L178.42,128.13 L179.37,130.21 L180.29,132.39 L181.18,134.67 L182.04,137.05 L182.86,139.53 L183.64,142.10 L184.38,144.75 L185.09,147.48 L185.76,150.29 L186.38,153.18 L186.96,156.13 L187.50,159.14 L188.00,162.21 L188.45,165.34 L188.86,168.51 L189.22,171.73 L189.53,174.98 L189.79,178.27 L190.01,181.58 L190.18,184.92 L190.30,188.27 L190.38,191.63 L190.40,195.00 L190.36,197.65 L190.25,200.29 L190.06,202.91 L189.79,205.51 L189.45,208.08 L189.04,210.61 L188.55,213.10 L188.00,215.53 L187.37,217.91 L186.68,220.21 L185.92,222.44 L185.10,224.59 L184.22,226.66 L183.28,228.63 L182.28,230.50 L181.23,232.27 L180.13,233.93 L178.99,235.48 L177.80,236.90 L176.58,238.21 L175.32,239.38 L174.02,240.43 L172.70,241.34 L171.36,242.12 L169.99,242.76 L168.61,243.26 L167.21,243.62 L165.81,243.83 L164.40,243.90" stroke-width="2.4"/>
<path d="M163.20,111.35 L164.41,111.42 L165.61,111.62 L166.82,111.96 L168.01,112.44 L169.20,113.04 L170.38,113.78 L171.55,114.65 L172.70,115.66 L173.84,116.79 L174.96,118.05 L176.06,119.43 L177.14,120.93 L178.20,122.56 L179.23,124.30 L180.24,126.16 L181.22,128.13 L182.17,130.21 L183.09,132.39 L183.98,134.67 L184.84,137.05 L185.66,139.53 L186.44,142.10 L187.18,144.75 L187.89,147.48 L188.56,150.29 L189.18,153.18 L189.76,156.13 L190.30,159.14 L190.80,162.21 L191.25,165.34 L191.66,168.51 L192.02,171.73 L192.33,174.98 L192.59,178.27 L192.81,181.58 L192.98,184.92 L193.10,188.27 L193.18,191.63 L193.20,195.00 L193.16,197.65 L193.05,200.29 L192.86,202.91 L192.59,205.51 L192.25,208.08 L191.84,210.61 L191.35,213.10 L190.80,215.53 L190.17,217.91 L189.48,220.21 L188.72,222.44 L187.90,224.59 L187.02,226.66 L186.08,228.63 L185.08,230.50 L184.03,232.27 L182.93,233.93 L181.79,235.48 L180.60,236.90 L179.38,238.21 L178.12,239.38 L176.82,240.43 L175.50,241.34 L174.16,242.12 L172.79,242.76 L171.41,243.26 L170.01,243.62 L168.61,243.83 L167.20,243.90" stroke-width="4" stroke-opacity="0.4"/>
<path d="M156.20,111.35 L157.41,111.42 L158.61,111.62 L159.82,111.96 L161.01,112.44 L162.20,113.04 L163.38,113.78 L164.55,114.65 L165.70,115.66 L166.84,116.79 L167.96,118.05 L169.06,119.43 L170.14,120.93 L171.20,122.56 L172.23,124.30 L173.24,126.16 L174.22,128.13 L175.17,130.21 L176.09,132.39 L176.98,134.67 L177.84,137.05 L178.66,139.53 L179.44,142.10 L180.18,144.75 L180.89,147.48 L181.56,150.29 L182.18,153.18 L182.76,156.13 L183.30,159.14 L183.80,162.21 L184.25,165.34 L184.66,168.51 L185.02,171.73 L185.33,174.98 L185.59,178.27 L185.81,181.58 L185.98,184.92 L186.10,188.27 L186.18,191.63 L186.20,195.00 L186.16,197.65 L186.05,200.29 L185.86,202.91 L185.59,205.51 L185.25,208.08 L184.84,210.61 L184.35,213.10 L183.80,215.53 L183.17,217.91 L182.48,220.21 L181.72,222.44 L180.90,224.59 L180.02,226.66 L179.08,228.63 L178.08,230.50 L177.03,232.27 L175.93,233.93 L174.79,235.48 L173.60,236.90 L172.38,238.21 L171.12,239.38 L169.82,240.43 L168.50,241.34 L167.16,242.12 L165.79,242.76 L164.41,243.26 L163.01,243.62 L161.61,243.83 L160.20,243.90" stroke-width="1.5" stroke-opacity="0.35"/>
<path d="M176.90,111.79 L178.11,111.86 L179.31,112.06 L180.52,112.40 L181.71,112.87 L182.90,113.47 L184.08,114.21 L185.25,115.08 L186.40,116.07 L187.54,117.20 L188.66,118.45 L189.76,119.83 L190.84,121.32 L191.90,122.94 L192.93,124.67 L193.94,126.52 L194.92,128.48 L195.87,130.55 L196.79,132.72 L197.68,134.99 L198.54,137.36 L199.36,139.82 L200.14,142.38 L200.88,145.01 L201.59,147.73 L202.26,150.53 L202.88,153.40 L203.46,156.33 L204.00,159.33 L204.50,162.39 L204.95,165.49 L205.36,168.65 L205.72,171.85 L206.03,175.09 L206.29,178.36 L206.51,181.65 L206.68,184.97 L206.80,188.30 L206.88,191.65 L206.90,195.00 L206.86,197.63 L206.75,200.25 L206.56,202.86 L206.29,205.45 L205.95,208.00 L205.54,210.52 L205.05,212.99 L204.50,215.40 L203.87,217.76 L203.18,220.05 L202.42,222.27 L201.60,224.41 L200.72,226.46 L199.78,228.42 L198.78,230.28 L197.73,232.04 L196.63,233.69 L195.49,235.22 L194.30,236.64 L193.08,237.93 L191.82,239.10 L190.52,240.14 L189.20,241.05 L187.86,241.82 L186.49,242.46 L185.11,242.96 L183.71,243.31 L182.31,243.52 L180.90,243.60" stroke-width="2.4"/>
<path d="M179.70,111.79 L180.91,111.86 L182.11,112.06 L183.32,112.40 L184.51,112.87 L185.70,113.47 L186.88,114.21 L188.05,115.08 L189.20,116.07 L190.34,117.20 L191.46,118.45 L192.56,119.83 L193.64,121.32 L194.70,122.94 L195.73,124.67 L196.74,126.52 L197.72,128.48 L198.67,130.55 L199.59,132.72 L200.48,134.99 L201.34,137.36 L202.16,139.82 L202.94,142.38 L203.68,145.01 L204.39,147.73 L205.06,150.53 L205.68,153.40 L206.26,156.33 L206.80,159.33 L207.30,162.39 L207.75,165.49 L208.16,168.65 L208.52,171.85 L208.83,175.09 L209.09,178.36 L209.31,181.65 L209.48,184.97 L209.60,188.30 L209.68,191.65 L209.70,195.00 L209.66,197.63 L209.55,200.25 L209.36,202.86 L209.09,205.45 L208.75,208.00 L208.34,210.52 L207.85,212.99 L207.30,215.40 L206.67,217.76 L205.98,220.05 L205.22,222.27 L204.40,224.41 L203.52,226.46 L202.58,228.42 L201.58,230.28 L200.53,232.04 L199.43,233.69 L198.29,235.22 L197.10,236.64 L195.88,237.93 L194.62,239.10 L193.32,240.14 L192.00,241.05 L190.66,241.82 L189.29,242.46 L187.91,242.96 L186.51,243.31 L185.11,243.52 L183.70,243.60" stroke-width="4" stroke-opacity="0.4"/>
<path d="M172.70,111.79 L173.91,111.86 L175.11,112.06 L176.32,112.40 L177.51,112.87 L178.70,113.47 L179.88,114.21 L181.05,115.08 L182.20,116.07 L183.34,117.20 L184.46,118.45 L185.56,119.83 L186.64,121.32 L187.70,122.94 L188.73,124.67 L189.74,126.52 L190.72,128.48 L191.67,130.55 L192.59,132.72 L193.48,134.99 L194.34,137.36 L195.16,139.82 L195.94,142.38 L196.68,145.01 L197.39,147.73 L198.06,150.53 L198.68,153.40 L199.26,156.33 L199.80,159.33 L200.30,162.39 L200.75,165.49 L201.16,168.65 L201.52,171.85 L201.83,175.09 L202.09,178.36 L202.31,181.65 L202.48,184.97 L202.60,188.30 L202.68,191.65 L202.70,195.00 L202.66,197.63 L202.55,200.25 L202.36,202.86 L202.09,205.45 L201.75,208.00 L201.34,210.52 L200.85,212.99 L200.30,215.40 L199.67,217.76 L198.98,220.05 L198.22,222.27 L197.40,224.41 L196.52,226.46 L195.58,228.42 L194.58,230.28 L193.53,232.04 L192.43,233.69 L191.29,235.22 L190.10,236.64 L188.88,237.93 L187.62,239.10 L186.32,240.14 L185.00,241.05 L183.66,241.82 L182.29,242.46 L180.91,242.96 L179.51,243.31 L178.11,243.52 L176.70,243.60" stroke-width="1.5" stroke-opacity="0.35"/>
<path d="M193.90,112.25 L195.11,112.31 L196.31,112.51 L197.52,112.85 L198.71,113.32 L199.90,113.92 L201.08,114.65 L202.25,115.51 L203.40,116.50 L204.54,117.62 L205.66,118.87 L206.76,120.24 L207.84,121.72 L208.90,123.33 L209.93,125.06 L210.94,126.89 L211.92,128.84 L212.87,130.90 L213.79,133.06 L214.68,135.32 L215.54,137.67 L216.36,140.12 L217.14,142.66 L217.88,145.29 L218.59,147.99 L219.26,150.77 L219.88,153.62 L220.46,156.54 L221.00,159.52 L221.50,162.56 L221.95,165.65 L222.36,168.79 L222.72,171.98 L223.03,175.20 L223.29,178.45 L223.51,181.73 L223.68,185.03 L223.80,188.34 L223.88,191.67 L223.90,195.00 L223.86,197.61 L223.75,200.22 L223.56,202.81 L223.29,205.38 L222.95,207.92 L222.54,210.42 L222.05,212.87 L221.50,215.27 L220.87,217.61 L220.18,219.89 L219.42,222.09 L218.60,224.22 L217.72,226.26 L216.78,228.20 L215.78,230.05 L214.73,231.80 L213.63,233.44 L212.49,234.96 L211.30,236.37 L210.08,237.66 L208.82,238.82 L207.52,239.85 L206.20,240.75 L204.86,241.52 L203.49,242.15 L202.11,242.64 L200.71,243.00 L199.31,243.21 L197.90,243.28" stroke-width="2.4"/>
<path d="M196.70,112.25 L197.91,112.31 L199.11,112.51 L200.32,112.85 L201.51,113.32 L202.70,113.92 L203.88,114.65 L205.05,115.51 L206.20,116.50 L207.34,117.62 L208.46,118.87 L209.56,120.24 L210.64,121.72 L211.70,123.33 L212.73,125.06 L213.74,126.89 L214.72,128.84 L215.67,130.90 L216.59,133.06 L217.48,135.32 L218.34,137.67 L219.16,140.12 L219.94,142.66 L220.68,145.29 L221.39,147.99 L222.06,150.77 L222.68,153.62 L223.26,156.54 L223.80,159.52 L224.30,162.56 L224.75,165.65 L225.16,168.79 L225.52,171.98 L225.83,175.20 L226.09,178.45 L226.31,181.73 L226.48,185.03 L226.60,188.34 L226.68,191.67 L226.70,195.00 L226.66,197.61 L226.55,200.22 L226.36,202.81 L226.09,205.38 L225.75,207.92 L225.34,210.42 L224.85,212.87 L224.30,215.27 L223.67,217.61 L222.98,219.89 L222.22,222.09 L221.40,224.22 L220.52,226.26 L219.58,228.20 L218.58,230.05 L217.53,231.80 L216.43,233.44 L215.29,234.96 L214.10,236.37 L212.88,237.66 L211.62,238.82 L210.32,239.85 L209.00,240.75 L207.66,241.52 L206.29,242.15 L204.91,242.64 L203.51,243.00 L202.11,243.21 L200.70,243.28" stroke-width="4" stroke-opacity="0.4"/>
<path d="M189.70,112.25 L190.91,112.31 L192.11,112.51 L193.32,112.85 L194.51,113.32 L195.70,113.92 L196.88,114.65 L198.05,115.51 L199.20,116.50 L200.34,117.62 L201.46,118.87 L202.56,120.24 L203.64,121.72 L204.70,123.33 L205.73,125.06 L206.74,126.89 L207.72,128.84 L208.67,130.90 L209.59,133.06 L210.48,135.32 L211.34,137.67 L212.16,140.12 L212.94,142.66 L213.68,145.29 L214.39,147.99 L215.06,150.77 L215.68,153.62 L216.26,156.54 L216.80,159.52 L217.30,162.56 L217.75,165.65 L218.16,168.79 L218.52,171.98 L218.83,175.20 L219.09,178.45 L219.31,181.73 L219.48,185.03 L219.60,188.34 L219.68,191.67 L219.70,195.00 L219.66,197.61 L219.55,200.22 L219.36,202.81 L219.09,205.38 L218.75,207.92 L218.34,210.42 L217.85,212.87 L217.30,215.27 L216.67,217.61 L215.98,219.89 L215.22,222.09 L214.40,224.22 L213.52,226.26 L212.58,228.20 L211.58,230.05 L210.53,231.80 L209.43,233.44 L208.29,234.96 L207.10,236.37 L205.88,237.66 L204.62,238.82 L203.32,239.85 L202.00,240.75 L200.66,241.52 L199.29,242.15 L197.91,242.64 L196.51,243.00 L195.11,243.21 L193.70,243.28" stroke-width="1.5" stroke-opacity="0.35"/>
<path d="M210.90,112.70 L212.11,112.77 L213.31,112.97 L214.52,113.30 L215.71,113.76 L216.90,114.36 L218.08,115.09 L219.25,115.95 L220.40,116.93 L221.54,118.05 L222.66,119.28 L223.76,120.64 L224.84,122.13 L225.90,123.72 L226.93,125.44 L227.94,127.27 L228.92,129.20 L229.87,131.25 L230.79,133.40 L231.68,135.64 L232.54,137.99 L233.36,140.42 L234.14,142.95 L234.88,145.56 L235.59,148.25 L236.26,151.01 L236.88,153.85 L237.46,156.75 L238.00,159.72 L238.50,162.74 L238.95,165.82 L239.36,168.94 L239.72,172.10 L240.03,175.30 L240.29,178.54 L240.51,181.80 L240.68,185.08 L240.80,188.38 L240.88,191.69 L240.90,195.00 L240.86,197.61 L240.75,200.21 L240.56,202.80 L240.29,205.36 L239.95,207.89 L239.54,210.39 L239.05,212.84 L238.50,215.24 L237.87,217.58 L237.18,219.85 L236.42,222.05 L235.60,224.17 L234.72,226.20 L233.78,228.15 L232.78,229.99 L231.73,231.74 L230.63,233.37 L229.49,234.89 L228.30,236.30 L227.08,237.59 L225.82,238.75 L224.52,239.78 L223.20,240.68 L221.86,241.44 L220.49,242.07 L219.11,242.57 L217.71,242.92 L216.31,243.13 L214.90,243.20" stroke-width="2.4"/>
<path d="M213.70,112.70 L214.91,112.77 L216.11,112.97 L217.32,113.30 L218.51,113.76 L219.70,114.36 L220.88,115.09 L222.05,115.95 L223.20,116.93 L224.34,118.05 L225.46,119.28 L226.56,120.64 L227.64,122.13 L228.70,123.72 L229.73,125.44 L230.74,127.27 L231.72,129.20 L232.67,131.25 L233.59,133.40 L234.48,135.64 L235.34,137.99 L236.16,140.42 L236.94,142.95 L237.68,145.56 L238.39,148.25 L239.06,151.01 L239.68,153.85 L240.26,156.75 L240.80,159.72 L241.30,162.74 L241.75,165.82 L242.16,168.94 L242.52,172.10 L242.83,175.30 L243.09,178.54 L243.31,181.80 L243.48,185.08 L243.60,188.38 L243.68,191.69 L243.70,195.00 L243.66,197.61 L243.55,200.21 L243.36,202.80 L243.09,205.36 L242.75,207.89 L242.34,210.39 L241.85,212.84 L241.30,215.24 L240.67,217.58 L239.98,219.85 L239.22,222.05 L238.40,224.17 L237.52,226.20 L236.58,228.15 L235.58,229.99 L234.53,231.74 L233.43,233.37 L232.29,234.89 L231.10,236.30 L229.88,237.59 L228.62,238.75 L227.32,239.78 L226.00,240.68 L224.66,241.44 L223.29,242.07 L221.91,242.57 L220.51,242.92 L219.11,243.13 L217.70,243.20" stroke-width="4" stroke-opacity="0.4"/>
<path d="M206.70,112.70 L207.91,112.77 L209.11,112.97 L210.32,113.30 L211.51,113.76 L212.70,114.36 L213.88,115.09 L215.05,115.95 L216.20,116.93 L217.34,118.05 L218.46,119.28 L219.56,120.64 L220.64,122.13 L221.70,123.72 L222.73,125.44 L223.74,127.27 L224.72,129.20 L225.67,131.25 L226.59,133.40 L227.48,135.64 L228.34,137.99 L229.16,140.42 L229.94,142.95 L230.68,145.56 L231.39,148.25 L232.06,151.01 L232.68,153.85 L233.26,156.75 L233.80,159.72 L234.30,162.74 L234.75,165.82 L235.16,168.94 L235.52,172.10 L235.83,175.30 L236.09,178.54 L236.31,181.80 L236.48,185.08 L236.60,188.38 L236.68,191.69 L236.70,195.00 L236.66,197.61 L236.55,200.21 L236.36,202.80 L236.09,205.36 L235.75,207.89 L235.34,210.39 L234.85,212.84 L234.30,215.24 L233.67,217.58 L232.98,219.85 L232.22,222.05 L231.40,224.17 L230.52,226.20 L229.58,228.15 L228.58,229.99 L227.53,231.74 L226.43,233.37 L225.29,234.89 L224.10,236.30 L222.88,237.59 L221.62,238.75 L220.32,239.78 L219.00,240.68 L217.66,241.44 L216.29,242.07 L214.91,242.57 L213.51,242.92 L212.11,243.13 L210.70,243.20" stroke-width="1.5" stroke-opacity="0.35"/>
<path d="M227.90,113.04 L229.11,113.11 L230.31,113.31 L231.52,113.64 L232.71,114.10 L233.90,114.70 L235.08,115.42 L236.25,116.28 L237.40,117.26 L238.54,118.37 L239.66,119.60 L240.76,120.96 L241.84,122.43 L242.90,124.02 L243.93,125.73 L244.94,127.55 L245.92,129.48 L246.87,131.52 L247.79,133.65 L248.68,135.89 L249.54,138.23 L250.36,140.65 L251.14,143.17 L251.88,145.76 L252.59,148.44 L253.26,151.20 L253.88,154.02 L254.46,156.91 L255.00,159.87 L255.50,162.88 L255.95,165.94 L256.36,169.05 L256.72,172.20 L257.03,175.39 L257.29,178.61 L257.51,181.85 L257.68,185.12 L257.80,188.41 L257.88,191.70 L257.90,195.00 L257.86,197.61 L257.75,200.21 L257.56,202.80 L257.29,205.36 L256.95,207.89 L256.54,210.39 L256.05,212.84 L255.50,215.24 L254.87,217.58 L254.18,219.85 L253.42,222.05 L252.60,224.17 L251.72,226.20 L250.78,228.15 L249.78,229.99 L248.73,231.74 L247.63,233.37 L246.49,234.89 L245.30,236.30 L244.08,237.59 L242.82,238.75 L241.52,239.78 L240.20,240.68 L238.86,241.44 L237.49,242.07 L236.11,242.57 L234.71,242.92 L233.31,243.13 L231.90,243.20" stroke-width="2.4"/>
<path d="M230.70,113.04 L231.91,113.11 L233.11,113.31 L234.32,113.64 L235.51,114.10 L236.70,114.70 L237.88,115.42 L239.05,116.28 L240.20,117.26 L241.34,118.37 L242.46,119.60 L243.56,120.96 L244.64,122.43 L245.70,124.02 L246.73,125.73 L247.74,127.55 L248.72,129.48 L249.67,131.52 L250.59,133.65 L251.48,135.89 L252.34,138.23 L253.16,140.65 L253.94,143.17 L254.68,145.76 L255.39,148.44 L256.06,151.20 L256.68,154.02 L257.26,156.91 L257.80,159.87 L258.30,162.88 L258.75,165.94 L259.16,169.05 L259.52,172.20 L259.83,175.39 L260.09,178.61 L260.31,181.85 L260.48,185.12 L260.60,188.41 L260.68,191.70 L260.70,195.00 L260.66,197.61 L260.55,200.21 L260.36,202.80 L260.09,205.36 L259.75,207.89 L259.34,210.39 L258.85,212.84 L258.30,215.24 L257.67,217.58 L256.98,219.85 L256.22,222.05 L255.40,224.17 L254.52,226.20 L253.58,228.15 L252.58,229.99 L251.53,231.74 L250.43,233.37 L249.29,234.89 L248.10,236.30 L246.88,237.59 L245.62,238.75 L244.32,239.78 L243.00,240.68 L241.66,241.44 L240.29,242.07 L238.91,242.57 L237.51,242.92 L236.11,243.13 L234.70,243.20" stroke-width="4" stroke-opacity="0.4"/>
<path d="M223.70,113.04 L224.91,113.11 L226.11,113.31 L227.32,113.64 L228.51,114.10 L229.70,114.70 L230.88,115.42 L232.05,116.28 L233.20,117.26 L234.34,118.37 L235.46,119.60 L236.56,120.96 L237.64,122.43 L238.70,124.02 L239.73,125.73 L240.74,127.55 L241.72,129.48 L242.67,131.52 L243.59,133.65 L244.48,135.89 L245.34,138.23 L246.16,140.65 L246.94,143.17 L247.68,145.76 L248.39,148.44 L249.06,151.20 L249.68,154.02 L250.26,156.91 L250.80,159.87 L251.30,162.88 L251.75,165.94 L252.16,169.05 L252.52,172.20 L252.83,175.39 L253.09,178.61 L253.31,181.85 L253.48,185.12 L253.60,188.41 L253.68,191.70 L253.70,195.00 L253.66,197.61 L253.55,200.21 L253.36,202.80 L253.09,205.36 L252.75,207.89 L252.34,210.39 L251.85,212.84 L251.30,215.24 L250.67,217.58 L249.98,219.85 L249.22,222.05 L248.40,224.17 L247.52,226.20 L246.58,228.15 L245.58,229.99 L244.53,231.74 L243.43,233.37 L242.29,234.89 L241.10,236.30 L239.88,237.59 L238.62,238.75 L237.32,239.78 L236.00,240.68 L234.66,241.44 L233.29,242.07 L231.91,242.57 L230.51,242.92 L229.11,243.13 L227.70,243.20" stroke-width="1.5" stroke-opacity="0.35"/>
<path d="M243.40,113.16 L244.61,113.23 L245.81,113.42 L247.02,113.76 L248.21,114.22 L249.40,114.81 L250.58,115.54 L251.75,116.39 L252.90,117.37 L254.04,118.48 L255.16,119.71 L256.26,121.06 L257.34,122.53 L258.40,124.12 L259.43,125.83 L260.44,127.65 L261.42,129.57 L262.37,131.61 L263.29,133.74 L264.18,135.98 L265.04,138.31 L265.86,140.73 L266.64,143.24 L267.38,145.83 L268.09,148.51 L268.76,151.26 L269.38,154.08 L269.96,156.97 L270.50,159.92 L271.00,162.92 L271.45,165.98 L271.86,169.08 L272.22,172.23 L272.53,175.41 L272.79,178.63 L273.01,181.87 L273.18,185.14 L273.30,188.41 L273.38,191.70 L273.40,195.00 L273.36,197.61 L273.25,200.21 L273.06,202.80 L272.79,205.36 L272.45,207.89 L272.04,210.39 L271.55,212.84 L271.00,215.24 L270.37,217.58 L269.68,219.85 L268.92,222.05 L268.10,224.17 L267.22,226.20 L266.28,228.15 L265.28,229.99 L264.23,231.74 L263.13,233.37 L261.99,234.89 L260.80,236.30 L259.58,237.59 L258.32,238.75 L257.02,239.78 L255.70,240.68 L254.36,241.44 L252.99,242.07 L251.61,242.57 L250.21,242.92 L248.81,243.13 L247.40,243.20" stroke-width="2.4"/>
<path d="M246.20,113.16 L247.41,113.23 L248.61,113.42 L249.82,113.76 L251.01,114.22 L252.20,114.81 L253.38,115.54 L254.55,116.39 L255.70,117.37 L256.84,118.48 L257.96,119.71 L259.06,121.06 L260.14,122.53 L261.20,124.12 L262.23,125.83 L263.24,127.65 L264.22,129.57 L265.17,131.61 L266.09,133.74 L266.98,135.98 L267.84,138.31 L268.66,140.73 L269.44,143.24 L270.18,145.83 L270.89,148.51 L271.56,151.26 L272.18,154.08 L272.76,156.97 L273.30,159.92 L273.80,162.92 L274.25,165.98 L274.66,169.08 L275.02,172.23 L275.33,175.41 L275.59,178.63 L275.81,181.87 L275.98,185.14 L276.10,188.41 L276.18,191.70 L276.20,195.00 L276.16,197.61 L276.05,200.21 L275.86,202.80 L275.59,205.36 L275.25,207.89 L274.84,210.39 L274.35,212.84 L273.80,215.24 L273.17,217.58 L272.48,219.85 L271.72,222.05 L270.90,224.17 L270.02,226.20 L269.08,228.15 L268.08,229.99 L267.03,231.74 L265.93,233.37 L264.79,234.89 L263.60,236.30 L262.38,237.59 L261.12,238.75 L259.82,239.78 L258.50,240.68 L257.16,241.44 L255.79,242.07 L254.41,242.57 L253.01,242.92 L251.61,243.13 L250.20,243.20" stroke-width="4" stroke-opacity="0.4"/>
<path d="M239.20,113.16 L240.41,113.23 L241.61,113.42 L242.82,113.76 L244.01,114.22 L245.20,114.81 L246.38,115.54 L247.55,116.39 L248.70,117.37 L249.84,118.48 L250.96,119.71 L252.06,121.06 L253.14,122.53 L254.20,124.12 L255.23,125.83 L256.24,127.65 L257.22,129.57 L258.17,131.61 L259.09,133.74 L259.98,135.98 L260.84,138.31 L261.66,140.73 L262.44,143.24 L263.18,145.83 L263.89,148.51 L264.56,151.26 L265.18,154.08 L265.76,156.97 L266.30,159.92 L266.80,162.92 L267.25,165.98 L267.66,169.08 L268.02,172.23 L268.33,175.41 L268.59,178.63 L268.81,181.87 L268.98,185.14 L269.10,188.41 L269.18,191.70 L269.20,195.00 L269.16,197.61 L269.05,200.21 L268.86,202.80 L268.59,205.36 L268.25,207.89 L267.84,210.39 L267.35,212.84 L266.80,215.24 L266.17,217.58 L265.48,219.85 L264.72,222.05 L263.90,224.17 L263.02,226.20 L262.08,228.15 L261.08,229.99 L260.03,231.74 L258.93,233.37 L257.79,234.89 L256.60,236.30 L255.38,237.59 L254.12,238.75 L252.82,239.78 L251.50,240.68 L250.16,241.44 L248.79,242.07 L247.41,242.57 L246.01,242.92 L244.61,243.13 L243.20,243.20" stroke-width="1.5" stroke-opacity="0.35"/>
<path d="M259.40,113.28 L260.61,113.35 L261.81,113.54 L263.02,113.87 L264.21,114.34 L265.40,114.93 L266.58,115.65 L267.75,116.51 L268.90,117.48 L270.04,118.59 L271.16,119.82 L272.26,121.17 L273.34,122.64 L274.40,124.23 L275.43,125.93 L276.44,127.74 L277.42,129.67 L278.37,131.70 L279.29,133.83 L280.18,136.06 L281.04,138.39 L281.86,140.81 L282.64,143.32 L283.38,145.91 L284.09,148.58 L284.76,151.32 L285.38,154.14 L285.96,157.02 L286.50,159.97 L287.00,162.97 L287.45,166.02 L287.86,169.12 L288.22,172.26 L288.53,175.44 L288.79,178.65 L289.01,181.89 L289.18,185.15 L289.30,188.42 L289.38,191.71 L289.40,195.00 L289.36,197.61 L289.25,200.21 L289.06,202.80 L288.79,205.36 L288.45,207.89 L288.04,210.39 L287.55,212.84 L287.00,215.24 L286.37,217.58 L285.68,219.85 L284.92,222.05 L284.10,224.17 L283.22,226.20 L282.28,228.15 L281.28,229.99 L280.23,231.74 L279.13,233.37 L277.99,234.89 L276.80,236.30 L275.58,237.59 L274.32,238.75 L273.02,239.78 L271.70,240.68 L270.36,241.44 L268.99,242.07 L267.61,242.57 L266.21,242.92 L264.81,243.13 L263.40,243.20" stroke-width="2.4"/>
<path d="M262.20,113.28 L263.41,113.35 L264.61,113.54 L265.82,113.87 L267.01,114.34 L268.20,114.93 L269.38,115.65 L270.55,116.51 L271.70,117.48 L272.84,118.59 L273.96,119.82 L275.06,121.17 L276.14,122.64 L277.20,124.23 L278.23,125.93 L279.24,127.74 L280.22,129.67 L281.17,131.70 L282.09,133.83 L282.98,136.06 L283.84,138.39 L284.66,140.81 L285.44,143.32 L286.18,145.91 L286.89,148.58 L287.56,151.32 L288.18,154.14 L288.76,157.02 L289.30,159.97 L289.80,162.97 L290.25,166.02 L290.66,169.12 L291.02,172.26 L291.33,175.44 L291.59,178.65 L291.81,181.89 L291.98,185.15 L292.10,188.42 L292.18,191.71 L292.20,195.00 L292.16,197.61 L292.05,200.21 L291.86,202.80 L291.59,205.36 L291.25,207.89 L290.84,210.39 L290.35,212.84 L289.80,215.24 L289.17,217.58 L288.48,219.85 L287.72,222.05 L286.90,224.17 L286.02,226.20 L285.08,228.15 L284.08,229.99 L283.03,231.74 L281.93,233.37 L280.79,234.89 L279.60,236.30 L278.38,237.59 L277.12,238.75 L275.82,239.78 L274.50,240.68 L273.16,241.44 L271.79,242.07 L270.41,242.57 L269.01,242.92 L267.61,243.13 L266.20,243.20" stroke-width="4" stroke-opacity="0.4"/>
<path d="M255.20,113.28 L256.41,113.35 L257.61,113.54 L258.82,113.87 L260.01,114.34 L261.20,114.93 L262.38,115.65 L263.55,116.51 L264.70,117.48 L265.84,118.59 L266.96,119.82 L268.06,121.17 L269.14,122.64 L270.20,124.23 L271.23,125.93 L272.24,127.74 L273.22,129.67 L274.17,131.70 L275.09,133.83 L275.98,136.06 L276.84,138.39 L277.66,140.81 L278.44,143.32 L279.18,145.91 L279.89,148.58 L280.56,151.32 L281.18,154.14 L281.76,157.02 L282.30,159.97 L282.80,162.97 L283.25,166.02 L283.66,169.12 L284.02,172.26 L284.33,175.44 L284.59,178.65 L284.81,181.89 L284.98,185.15 L285.10,188.42 L285.18,191.71 L285.20,195.00 L285.16,197.61 L285.05,200.21 L284.86,202.80 L284.59,205.36 L284.25,207.89 L283.84,210.39 L283.35,212.84 L282.80,215.24 L282.17,217.58 L281.48,219.85 L280.72,222.05 L279.90,224.17 L279.02,226.20 L278.08,228.15 L277.08,229.99 L276.03,231.74 L274.93,233.37 L273.79,234.89 L272.60,236.30 L271.38,237.59 L270.12,238.75 L268.82,239.78 L267.50,240.68 L266.16,241.44 L264.79,242.07 L263.41,242.57 L262.01,242.92 L260.61,243.13 L259.20,243.20" stroke-width="1.5" stroke-opacity="0.35"/>
<path d="M275.40,113.40 L276.61,113.47 L277.81,113.66 L279.02,113.99 L280.21,114.46 L281.40,115.05 L282.58,115.77 L283.75,116.62 L284.90,117.60 L286.04,118.70 L287.16,119.93 L288.26,121.28 L289.34,122.75 L290.40,124.33 L291.43,126.03 L292.44,127.84 L293.42,129.76 L294.37,131.79 L295.29,133.92 L296.18,136.15 L297.04,138.47 L297.86,140.89 L298.64,143.39 L299.38,145.98 L300.09,148.65 L300.76,151.39 L301.38,154.20 L301.96,157.08 L302.50,160.02 L303.00,163.02 L303.45,166.06 L303.86,169.16 L304.22,172.30 L304.53,175.47 L304.79,178.68 L305.01,181.91 L305.18,185.16 L305.30,188.43 L305.38,191.71 L305.40,195.00 L305.36,197.61 L305.25,200.21 L305.06,202.80 L304.79,205.36 L304.45,207.89 L304.04,210.39 L303.55,212.84 L303.00,215.24 L302.37,217.58 L301.68,219.85 L300.92,222.05 L300.10,224.17 L299.22,226.20 L298.28,228.15 L297.28,229.99 L296.23,231.74 L295.13,233.37 L293.99,234.89 L292.80,236.30 L291.58,237.59 L290.32,238.75 L289.02,239.78 L287.70,240.68 L286.36,241.44 L284.99,242.07 L283.61,242.57 L282.21,242.92 L280.81,243.13 L279.40,243.20" stroke-width="2.4"/>
<path d="M278.20,113.40 L279.41,113.47 L280.61,113.66 L281.82,113.99 L283.01,114.46 L284.20,115.05 L285.38,115.77 L286.55,116.62 L287.70,117.60 L288.84,118.70 L289.96,119.93 L291.06,121.28 L292.14,122.75 L293.20,124.33 L294.23,126.03 L295.24,127.84 L296.22,129.76 L297.17,131.79 L298.09,133.92 L298.98,136.15 L299.84,138.47 L300.66,140.89 L301.44,143.39 L302.18,145.98 L302.89,148.65 L303.56,151.39 L304.18,154.20 L304.76,157.08 L305.30,160.02 L305.80,163.02 L306.25,166.06 L306.66,169.16 L307.02,172.30 L307.33,175.47 L307.59,178.68 L307.81,181.91 L307.98,185.16 L308.10,188.43 L308.18,191.71 L308.20,195.00 L308.16,197.61 L308.05,200.21 L307.86,202.80 L307.59,205.36 L307.25,207.89 L306.84,210.39 L306.35,212.84 L305.80,215.24 L305.17,217.58 L304.48,219.85 L303.72,222.05 L302.90,224.17 L302.02,226.20 L301.08,228.15 L300.08,229.99 L299.03,231.74 L297.93,233.37 L296.79,234.89 L295.60,236.30 L294.38,237.59 L293.12,238.75 L291.82,239.78 L290.50,240.68 L289.16,241.44 L287.79,242.07 L286.41,242.57 L285.01,242.92 L283.61,243.13 L282.20,243.20" stroke-width="4" stroke-opacity="0.4"/>
<path d="M271.20,113.40 L272.41,113.47 L273.61,113.66 L274.82,113.99 L276.01,114.46 L277.20,115.05 L278.38,115.77 L279.55,116.62 L280.70,117.60 L281.84,118.70 L282.96,119.93 L284.06,121.28 L285.14,122.75 L286.20,124.33 L287.23,126.03 L288.24,127.84 L289.22,129.76 L290.17,131.79 L291.09,133.92 L291.98,136.15 L292.84,138.47 L293.66,140.89 L294.44,143.39 L295.18,145.98 L295.89,148.65 L296.56,151.39 L297.18,154.20 L297.76,157.08 L298.30,160.02 L298.80,163.02 L299.25,166.06 L299.66,169.16 L300.02,172.30 L300.33,175.47 L300.59,178.68 L300.81,181.91 L300.98,185.16 L301.10,188.43 L301.18,191.71 L301.20,195.00 L301.16,197.61 L301.05,200.21 L300.86,202.80 L300.59,205.36 L300.25,207.89 L299.84,210.39 L299.35,212.84 L298.80,215.24 L298.17,217.58 L297.48,219.85 L296.72,222.05 L295.90,224.17 L295.02,226.20 L294.08,228.15 L293.08,229.99 L292.03,231.74 L290.93,233.37 L289.79,234.89 L288.60,236.30 L287.38,237.59 L286.12,238.75 L284.82,239.78 L283.50,240.68 L282.16,241.44 L280.79,242.07 L279.41,242.57 L278.01,242.92 L276.61,243.13 L275.20,243.20" stroke-width="1.5" stroke-opacity="0.35"/>
<path d="M291.40,113.52 L292.61,113.59 L293.81,113.78 L295.02,114.11 L296.21,114.57 L297.40,115.17 L298.58,115.89 L299.75,116.74 L300.90,117.71 L302.04,118.81 L303.16,120.04 L304.26,121.39 L305.34,122.85 L306.40,124.44 L307.43,126.13 L308.44,127.94 L309.42,129.86 L310.37,131.88 L311.29,134.01 L312.18,136.24 L313.04,138.56 L313.86,140.97 L314.64,143.47 L315.38,146.05 L316.09,148.71 L316.76,151.45 L317.38,154.26 L317.96,157.13 L318.50,160.07 L319.00,163.06 L319.45,166.11 L319.86,169.20 L320.22,172.33 L320.53,175.50 L320.79,178.70 L321.01,181.93 L321.18,185.18 L321.30,188.44 L321.38,191.72 L321.40,195.00 L321.36,197.61 L321.25,200.21 L321.06,202.80 L320.79,205.36 L320.45,207.89 L320.04,210.39 L319.55,212.84 L319.00,215.24 L318.37,217.58 L317.68,219.85 L316.92,222.05 L316.10,224.17 L315.22,226.20 L314.28,228.15 L313.28,229.99 L312.23,231.74 L311.13,233.37 L309.99,234.89 L308.80,236.30 L307.58,237.59 L306.32,238.75 L305.02,239.78 L303.70,240.68 L302.36,241.44 L300.99,242.07 L299.61,242.57 L298.21,242.92 L296.81,243.13 L295.40,243.20" stroke-width="2.4"/>
<path d="M294.20,113.52 L295.41,113.59 L296.61,113.78 L297.82,114.11 L299.01,114.57 L300.20,115.17 L301.38,115.89 L302.55,116.74 L303.70,117.71 L304.84,118.81 L305.96,120.04 L307.06,121.39 L308.14,122.85 L309.20,124.44 L310.23,126.13 L311.24,127.94 L312.22,129.86 L313.17,131.88 L314.09,134.01 L314.98,136.24 L315.84,138.56 L316.66,140.97 L317.44,143.47 L318.18,146.05 L318.89,148.71 L319.56,151.45 L320.18,154.26 L320.76,157.13 L321.30,160.07 L321.80,163.06 L322.25,166.11 L322.66,169.20 L323.02,172.33 L323.33,175.50 L323.59,178.70 L323.81,181.93 L323.98,185.18 L324.10,188.44 L324.18,191.72 L324.20,195.00 L324.16,197.61 L324.05,200.21 L323.86,202.80 L323.59,205.36 L323.25,207.89 L322.84,210.39 L322.35,212.84 L321.80,215.24 L321.17,217.58 L320.48,219.85 L319.72,222.05 L318.90,224.17 L318.02,226.20 L317.08,228.15 L316.08,229.99 L315.03,231.74 L313.93,233.37 L312.79,234.89 L311.60,236.30 L310.38,237.59 L309.12,238.75 L307.82,239.78 L306.50,240.68 L305.16,241.44 L303.79,242.07 L302.41,242.57 L301.01,242.92 L299.61,243.13 L298.20,243.20" stroke-width="4" stroke-opacity="0.4"/>
<path d="M287.20,113.52 L288.41,113.59 L289.61,113.78 L290.82,114.11 L292.01,114.57 L293.20,115.17 L294.38,115.89 L295.55,116.74 L296.70,117.71 L297.84,118.81 L298.96,120.04 L300.06,121.39 L301.14,122.85 L302.20,124.44 L303.23,126.13 L304.24,127.94 L305.22,129.86 L306.17,131.88 L307.09,134.01 L307.98,136.24 L308.84,138.56 L309.66,140.97 L310.44,143.47 L311.18,146.05 L311.89,148.71 L312.56,151.45 L313.18,154.26 L313.76,157.13 L314.30,160.07 L314.80,163.06 L315.25,166.11 L315.66,169.20 L316.02,172.33 L316.33,175.50 L316.59,178.70 L316.81,181.93 L316.98,185.18 L317.10,188.44 L317.18,191.72 L317.20,195.00 L317.16,197.61 L317.05,200.21 L316.86,202.80 L316.59,205.36 L316.25,207.89 L315.84,210.39 L315.35,212.84 L314.80,215.24 L314.17,217.58 L313.48,219.85 L312.72,222.05 L311.90,224.17 L311.02,226.20 L310.08,228.15 L309.08,229.99 L308.03,231.74 L306.93,233.37 L305.79,234.89 L304.60,236.30 L303.38,237.59 L302.12,238.75 L300.82,239.78 L299.50,240.68 L298.16,241.44 L296.79,242.07 L295.41,242.57 L294.01,242.92 L292.61,243.13 L291.20,243.20" stroke-width="1.5" stroke-opacity="0.35"/>
</g>
</g>
<g fill="none" stroke="#140604" stroke-width="2.5">
<path d="M86.09,177.80 L86.31,181.20 L86.48,184.63 L86.60,188.08 L86.68,191.54 L86.70,195.00 L86.66,197.75 L86.55,200.49 L86.36,203.22 L86.09,205.92 L85.75,208.59 L85.34,211.22 L84.85,213.80 L84.30,216.32 L83.67,218.79 L82.98,221.18 L82.22,223.50 L81.40,225.73 L80.52,227.88 L79.58,229.93 L78.58,231.87 L77.53,233.71 L76.43,235.43 L75.29,237.04 L74.10,238.52 L72.88,239.87 L71.62,241.09 L70.32,242.18 L69.00,243.13 L67.66,243.94 L66.29,244.60 L64.91,245.12 L63.51,245.49 L62.11,245.71 L60.70,245.79"/>
<path d="M71.70,109.05 L72.91,109.12 L74.11,109.32 L75.32,109.67 L76.51,110.16 L77.70,110.78 L78.88,111.54 L80.05,112.44 L81.20,113.47 L82.34,114.63 L83.46,115.92 L84.56,117.34 L85.64,118.89 L86.70,120.56 L87.73,122.35 L88.74,124.26 L89.72,126.28 L90.67,128.42 L91.59,130.66 L92.48,133.01 L93.34,135.46 L94.16,138.00 L94.94,140.64 L95.68,143.36 L96.39,146.17 L97.06,149.06 L97.68,152.02 L98.26,155.05 L98.80,158.15 L99.30,161.31 L99.75,164.52 L100.16,167.78 L100.52,171.09 L100.83,174.43 L101.09,177.81 L101.31,181.21 L101.48,184.64 L101.60,188.08 L101.68,191.54 L101.70,195.00 L101.66,197.73 L101.55,200.46 L101.36,203.17 L101.09,205.86 L100.75,208.51 L100.34,211.13 L99.85,213.70 L99.30,216.21 L98.67,218.66 L97.98,221.04 L97.22,223.34 L96.40,225.57 L95.52,227.70 L94.58,229.73 L93.58,231.67 L92.53,233.50 L91.43,235.21 L90.29,236.81 L89.10,238.28 L87.88,239.62 L86.62,240.84 L85.32,241.92 L84.00,242.86 L82.66,243.67 L81.29,244.33 L79.91,244.84 L78.51,245.21 L77.11,245.43 L75.70,245.51"/>
<path d="M91.20,109.57 L92.41,109.63 L93.61,109.84 L94.82,110.19 L96.01,110.67 L97.20,111.29 L98.38,112.05 L99.55,112.94 L100.70,113.96 L101.84,115.12 L102.96,116.40 L104.06,117.81 L105.14,119.35 L106.20,121.01 L107.23,122.79 L108.24,124.69 L109.22,126.70 L110.17,128.82 L111.09,131.05 L111.98,133.38 L112.84,135.82 L113.66,138.35 L114.44,140.97 L115.18,143.68 L115.89,146.47 L116.56,149.34 L117.18,152.28 L117.76,155.30 L118.30,158.37 L118.80,161.51 L119.25,164.70 L119.66,167.95 L120.02,171.23 L120.33,174.55 L120.59,177.91 L120.81,181.30 L120.98,184.70 L121.10,188.13 L121.18,191.56 L121.20,195.00 L121.16,197.71 L121.05,200.42 L120.86,203.11 L120.59,205.78 L120.25,208.42 L119.84,211.01 L119.35,213.56 L118.80,216.06 L118.17,218.49 L117.48,220.85 L116.72,223.14 L115.90,225.35 L115.02,227.46 L114.08,229.49 L113.08,231.41 L112.03,233.22 L110.93,234.92 L109.79,236.51 L108.60,237.97 L107.38,239.30 L106.12,240.51 L104.82,241.58 L103.50,242.52 L102.16,243.32 L100.79,243.97 L99.41,244.49 L98.01,244.85 L96.61,245.07 L95.20,245.15"/>
<path d="M108.20,110.02 L109.41,110.09 L110.61,110.29 L111.82,110.64 L113.01,111.12 L114.20,111.74 L115.38,112.49 L116.55,113.37 L117.70,114.39 L118.84,115.54 L119.96,116.82 L121.06,118.22 L122.14,119.75 L123.20,121.40 L124.23,123.17 L125.24,125.06 L126.22,127.06 L127.17,129.17 L128.09,131.39 L128.98,133.71 L129.84,136.13 L130.66,138.65 L131.44,141.25 L132.18,143.95 L132.89,146.73 L133.56,149.58 L134.18,152.51 L134.76,155.51 L135.30,158.57 L135.80,161.69 L136.25,164.87 L136.66,168.09 L137.02,171.36 L137.33,174.66 L137.59,178.00 L137.81,181.37 L137.98,184.76 L138.10,188.16 L138.18,191.58 L138.20,195.00 L138.16,197.70 L138.05,200.39 L137.86,203.06 L137.59,205.71 L137.25,208.33 L136.84,210.91 L136.35,213.44 L135.80,215.92 L135.17,218.34 L134.48,220.69 L133.72,222.96 L132.90,225.16 L132.02,227.26 L131.08,229.27 L130.08,231.18 L129.03,232.98 L127.93,234.67 L126.79,236.24 L125.60,237.70 L124.38,239.03 L123.12,240.23 L121.82,241.29 L120.50,242.22 L119.16,243.01 L117.79,243.67 L116.41,244.17 L115.01,244.54 L113.61,244.76 L112.20,244.83"/>
<path d="M124.20,110.45 L125.41,110.51 L126.61,110.72 L127.82,111.06 L129.01,111.54 L130.20,112.15 L131.38,112.90 L132.55,113.78 L133.70,114.80 L134.84,115.94 L135.96,117.21 L137.06,118.61 L138.14,120.13 L139.20,121.77 L140.23,123.54 L141.24,125.41 L142.22,127.40 L143.17,129.50 L144.09,131.71 L144.98,134.02 L145.84,136.43 L146.66,138.93 L147.44,141.52 L148.18,144.20 L148.89,146.97 L149.56,149.81 L150.18,152.72 L150.76,155.71 L151.30,158.75 L151.80,161.86 L152.25,165.02 L152.66,168.22 L153.02,171.48 L153.33,174.76 L153.59,178.09 L153.81,181.44 L153.98,184.81 L154.10,188.20 L154.18,191.60 L154.20,195.00 L154.16,197.68 L154.05,200.36 L153.86,203.01 L153.59,205.65 L153.25,208.25 L152.84,210.82 L152.35,213.33 L151.80,215.80 L151.17,218.20 L150.48,220.54 L149.72,222.80 L148.90,224.98 L148.02,227.07 L147.08,229.06 L146.08,230.96 L145.03,232.75 L143.93,234.43 L142.79,236.00 L141.60,237.44 L140.38,238.76 L139.12,239.96 L137.82,241.02 L136.50,241.94 L135.16,242.73 L133.79,243.38 L132.41,243.88 L131.01,244.24 L129.61,244.46 L128.20,244.53"/>
<path d="M140.70,110.89 L141.91,110.95 L143.11,111.16 L144.32,111.50 L145.51,111.97 L146.70,112.59 L147.88,113.33 L149.05,114.21 L150.20,115.21 L151.34,116.35 L152.46,117.62 L153.56,119.01 L154.64,120.52 L155.70,122.15 L156.73,123.91 L157.74,125.77 L158.72,127.76 L159.67,129.84 L160.59,132.04 L161.48,134.34 L162.34,136.73 L163.16,139.22 L163.94,141.80 L164.68,144.47 L165.39,147.22 L166.06,150.04 L166.68,152.94 L167.26,155.91 L167.80,158.94 L168.30,162.03 L168.75,165.17 L169.16,168.36 L169.52,171.60 L169.83,174.87 L170.09,178.17 L170.31,181.51 L170.48,184.86 L170.60,188.23 L170.68,191.61 L170.70,195.00 L170.66,197.67 L170.55,200.32 L170.36,202.96 L170.09,205.58 L169.75,208.17 L169.34,210.72 L168.85,213.22 L168.30,215.67 L167.67,218.06 L166.98,220.38 L166.22,222.63 L165.40,224.79 L164.52,226.87 L163.58,228.85 L162.58,230.74 L161.53,232.52 L160.43,234.19 L159.29,235.74 L158.10,237.18 L156.88,238.49 L155.62,239.68 L154.32,240.73 L153.00,241.65 L151.66,242.43 L150.29,243.08 L148.91,243.58 L147.51,243.94 L146.11,244.15 L144.70,244.23"/>
<path d="M158.20,111.35 L159.41,111.42 L160.61,111.62 L161.82,111.96 L163.01,112.44 L164.20,113.04 L165.38,113.78 L166.55,114.65 L167.70,115.66 L168.84,116.79 L169.96,118.05 L171.06,119.43 L172.14,120.93 L173.20,122.56 L174.23,124.30 L175.24,126.16 L176.22,128.13 L177.17,130.21 L178.09,132.39 L178.98,134.67 L179.84,137.05 L180.66,139.53 L181.44,142.10 L182.18,144.75 L182.89,147.48 L183.56,150.29 L184.18,153.18 L184.76,156.13 L185.30,159.14 L185.80,162.21 L186.25,165.34 L186.66,168.51 L187.02,171.73 L187.33,174.98 L187.59,178.27 L187.81,181.58 L187.98,184.92 L188.10,188.27 L188.18,191.63 L188.20,195.00 L188.16,197.65 L188.05,200.29 L187.86,202.91 L187.59,205.51 L187.25,208.08 L186.84,210.61 L186.35,213.10 L185.80,215.53 L185.17,217.91 L184.48,220.21 L183.72,222.44 L182.90,224.59 L182.02,226.66 L181.08,228.63 L180.08,230.50 L179.03,232.27 L177.93,233.93 L176.79,235.48 L175.60,236.90 L174.38,238.21 L173.12,239.38 L171.82,240.43 L170.50,241.34 L169.16,242.12 L167.79,242.76 L166.41,243.26 L165.01,243.62 L163.61,243.83 L162.20,243.90"/>
<path d="M174.70,111.79 L175.91,111.86 L177.11,112.06 L178.32,112.40 L179.51,112.87 L180.70,113.47 L181.88,114.21 L183.05,115.08 L184.20,116.07 L185.34,117.20 L186.46,118.45 L187.56,119.83 L188.64,121.32 L189.70,122.94 L190.73,124.67 L191.74,126.52 L192.72,128.48 L193.67,130.55 L194.59,132.72 L195.48,134.99 L196.34,137.36 L197.16,139.82 L197.94,142.38 L198.68,145.01 L199.39,147.73 L200.06,150.53 L200.68,153.40 L201.26,156.33 L201.80,159.33 L202.30,162.39 L202.75,165.49 L203.16,168.65 L203.52,171.85 L203.83,175.09 L204.09,178.36 L204.31,181.65 L204.48,184.97 L204.60,188.30 L204.68,191.65 L204.70,195.00 L204.66,197.63 L204.55,200.25 L204.36,202.86 L204.09,205.45 L203.75,208.00 L203.34,210.52 L202.85,212.99 L202.30,215.40 L201.67,217.76 L200.98,220.05 L200.22,222.27 L199.40,224.41 L198.52,226.46 L197.58,228.42 L196.58,230.28 L195.53,232.04 L194.43,233.69 L193.29,235.22 L192.10,236.64 L190.88,237.93 L189.62,239.10 L188.32,240.14 L187.00,241.05 L185.66,241.82 L184.29,242.46 L182.91,242.96 L181.51,243.31 L180.11,243.52 L178.70,243.60"/>
<path d="M191.70,112.25 L192.91,112.31 L194.11,112.51 L195.32,112.85 L196.51,113.32 L197.70,113.92 L198.88,114.65 L200.05,115.51 L201.20,116.50 L202.34,117.62 L203.46,118.87 L204.56,120.24 L205.64,121.72 L206.70,123.33 L207.73,125.06 L208.74,126.89 L209.72,128.84 L210.67,130.90 L211.59,133.06 L212.48,135.32 L213.34,137.67 L214.16,140.12 L214.94,142.66 L215.68,145.29 L216.39,147.99 L217.06,150.77 L217.68,153.62 L218.26,156.54 L218.80,159.52 L219.30,162.56 L219.75,165.65 L220.16,168.79 L220.52,171.98 L220.83,175.20 L221.09,178.45 L221.31,181.73 L221.48,185.03 L221.60,188.34 L221.68,191.67 L221.70,195.00 L221.66,197.61 L221.55,200.22 L221.36,202.81 L221.09,205.38 L220.75,207.92 L220.34,210.42 L219.85,212.87 L219.30,215.27 L218.67,217.61 L217.98,219.89 L217.22,222.09 L216.40,224.22 L215.52,226.26 L214.58,228.20 L213.58,230.05 L212.53,231.80 L211.43,233.44 L210.29,234.96 L209.10,236.37 L207.88,237.66 L206.62,238.82 L205.32,239.85 L204.00,240.75 L202.66,241.52 L201.29,242.15 L199.91,242.64 L198.51,243.00 L197.11,243.21 L195.70,243.28"/>
<path d="M208.70,112.70 L209.91,112.77 L211.11,112.97 L212.32,113.30 L213.51,113.76 L214.70,114.36 L215.88,115.09 L217.05,115.95 L218.20,116.93 L219.34,118.05 L220.46,119.28 L221.56,120.64 L222.64,122.13 L223.70,123.72 L224.73,125.44 L225.74,127.27 L226.72,129.20 L227.67,131.25 L228.59,133.40 L229.48,135.64 L230.34,137.99 L231.16,140.42 L231.94,142.95 L232.68,145.56 L233.39,148.25 L234.06,151.01 L234.68,153.85 L235.26,156.75 L235.80,159.72 L236.30,162.74 L236.75,165.82 L237.16,168.94 L237.52,172.10 L237.83,175.30 L238.09,178.54 L238.31,181.80 L238.48,185.08 L238.60,188.38 L238.68,191.69 L238.70,195.00 L238.66,197.61 L238.55,200.21 L238.36,202.80 L238.09,205.36 L237.75,207.89 L237.34,210.39 L236.85,212.84 L236.30,215.24 L235.67,217.58 L234.98,219.85 L234.22,222.05 L233.40,224.17 L232.52,226.20 L231.58,228.15 L230.58,229.99 L229.53,231.74 L228.43,233.37 L227.29,234.89 L226.10,236.30 L224.88,237.59 L223.62,238.75 L222.32,239.78 L221.00,240.68 L219.66,241.44 L218.29,242.07 L216.91,242.57 L215.51,242.92 L214.11,243.13 L212.70,243.20"/>
<path d="M225.70,113.04 L226.91,113.11 L228.11,113.31 L229.32,113.64 L230.51,114.10 L231.70,114.70 L232.88,115.42 L234.05,116.28 L235.20,117.26 L236.34,118.37 L237.46,119.60 L238.56,120.96 L239.64,122.43 L240.70,124.02 L241.73,125.73 L242.74,127.55 L243.72,129.48 L244.67,131.52 L245.59,133.65 L246.48,135.89 L247.34,138.23 L248.16,140.65 L248.94,143.17 L249.68,145.76 L250.39,148.44 L251.06,151.20 L251.68,154.02 L252.26,156.91 L252.80,159.87 L253.30,162.88 L253.75,165.94 L254.16,169.05 L254.52,172.20 L254.83,175.39 L255.09,178.61 L255.31,181.85 L255.48,185.12 L255.60,188.41 L255.68,191.70 L255.70,195.00 L255.66,197.61 L255.55,200.21 L255.36,202.80 L255.09,205.36 L254.75,207.89 L254.34,210.39 L253.85,212.84 L253.30,215.24 L252.67,217.58 L251.98,219.85 L251.22,222.05 L250.40,224.17 L249.52,226.20 L248.58,228.15 L247.58,229.99 L246.53,231.74 L245.43,233.37 L244.29,234.89 L243.10,236.30 L241.88,237.59 L240.62,238.75 L239.32,239.78 L238.00,240.68 L236.66,241.44 L235.29,242.07 L233.91,242.57 L232.51,242.92 L231.11,243.13 L229.70,243.20"/>
<path d="M241.20,113.16 L242.41,113.23 L243.61,113.42 L244.82,113.76 L246.01,114.22 L247.20,114.81 L248.38,115.54 L249.55,116.39 L250.70,117.37 L251.84,118.48 L252.96,119.71 L254.06,121.06 L255.14,122.53 L256.20,124.12 L257.23,125.83 L258.24,127.65 L259.22,129.57 L260.17,131.61 L261.09,133.74 L261.98,135.98 L262.84,138.31 L263.66,140.73 L264.44,143.24 L265.18,145.83 L265.89,148.51 L266.56,151.26 L267.18,154.08 L267.76,156.97 L268.30,159.92 L268.80,162.92 L269.25,165.98 L269.66,169.08 L270.02,172.23 L270.33,175.41 L270.59,178.63 L270.81,181.87 L270.98,185.14 L271.10,188.41 L271.18,191.70 L271.20,195.00 L271.16,197.61 L271.05,200.21 L270.86,202.80 L270.59,205.36 L270.25,207.89 L269.84,210.39 L269.35,212.84 L268.80,215.24 L268.17,217.58 L267.48,219.85 L266.72,222.05 L265.90,224.17 L265.02,226.20 L264.08,228.15 L263.08,229.99 L262.03,231.74 L260.93,233.37 L259.79,234.89 L258.60,236.30 L257.38,237.59 L256.12,238.75 L254.82,239.78 L253.50,240.68 L252.16,241.44 L250.79,242.07 L249.41,242.57 L248.01,242.92 L246.61,243.13 L245.20,243.20"/>
<path d="M257.20,113.28 L258.41,113.35 L259.61,113.54 L260.82,113.87 L262.01,114.34 L263.20,114.93 L264.38,115.65 L265.55,116.51 L266.70,117.48 L267.84,118.59 L268.96,119.82 L270.06,121.17 L271.14,122.64 L272.20,124.23 L273.23,125.93 L274.24,127.74 L275.22,129.67 L276.17,131.70 L277.09,133.83 L277.98,136.06 L278.84,138.39 L279.66,140.81 L280.44,143.32 L281.18,145.91 L281.89,148.58 L282.56,151.32 L283.18,154.14 L283.76,157.02 L284.30,159.97 L284.80,162.97 L285.25,166.02 L285.66,169.12 L286.02,172.26 L286.33,175.44 L286.59,178.65 L286.81,181.89 L286.98,185.15 L287.10,188.42 L287.18,191.71 L287.20,195.00 L287.16,197.61 L287.05,200.21 L286.86,202.80 L286.59,205.36 L286.25,207.89 L285.84,210.39 L285.35,212.84 L284.80,215.24 L284.17,217.58 L283.48,219.85 L282.72,222.05 L281.90,224.17 L281.02,226.20 L280.08,228.15 L279.08,229.99 L278.03,231.74 L276.93,233.37 L275.79,234.89 L274.60,236.30 L273.38,237.59 L272.12,238.75 L270.82,239.78 L269.50,240.68 L268.16,241.44 L266.79,242.07 L265.41,242.57 L264.01,242.92 L262.61,243.13 L261.20,243.20"/>
<path d="M273.20,113.40 L274.41,113.47 L275.61,113.66 L276.82,113.99 L278.01,114.46 L279.20,115.05 L280.38,115.77 L281.55,116.62 L282.70,117.60 L283.84,118.70 L284.96,119.93 L286.06,121.28 L287.14,122.75 L288.20,124.33 L289.23,126.03 L290.24,127.84 L291.22,129.76 L292.17,131.79 L293.09,133.92 L293.98,136.15 L294.84,138.47 L295.66,140.89 L296.44,143.39 L297.18,145.98 L297.89,148.65 L298.56,151.39 L299.18,154.20 L299.76,157.08 L300.30,160.02 L300.80,163.02 L301.25,166.06 L301.66,169.16 L302.02,172.30 L302.33,175.47 L302.59,178.68 L302.81,181.91 L302.98,185.16 L303.10,188.43 L303.18,191.71 L303.20,195.00 L303.16,197.61 L303.05,200.21 L302.86,202.80 L302.59,205.36 L302.25,207.89 L301.84,210.39 L301.35,212.84 L300.80,215.24 L300.17,217.58 L299.48,219.85 L298.72,222.05 L297.90,224.17 L297.02,226.20 L296.08,228.15 L295.08,229.99 L294.03,231.74 L292.93,233.37 L291.79,234.89 L290.60,236.30 L289.38,237.59 L288.12,238.75 L286.82,239.78 L285.50,240.68 L284.16,241.44 L282.79,242.07 L281.41,242.57 L280.01,242.92 L278.61,243.13 L277.20,243.20"/>
<path d="M289.20,113.52 L290.41,113.59 L291.61,113.78 L292.82,114.11 L294.01,114.57 L295.20,115.17 L296.38,115.89 L297.55,116.74 L298.70,117.71 L299.84,118.81 L300.96,120.04 L302.06,121.39 L303.14,122.85 L304.20,124.44 L305.23,126.13 L306.24,127.94 L307.22,129.86 L308.17,131.88 L309.09,134.01 L309.98,136.24 L310.84,138.56 L311.66,140.97 L312.44,143.47 L313.18,146.05 L313.89,148.71 L314.56,151.45 L315.18,154.26 L315.76,157.13 L316.30,160.07 L316.80,163.06 L317.25,166.11 L317.66,169.20 L318.02,172.33 L318.33,175.50 L318.59,178.70 L318.81,181.93 L318.98,185.18 L319.10,188.44 L319.18,191.72 L319.20,195.00 L319.16,197.61 L319.05,200.21 L318.86,202.80 L318.59,205.36 L318.25,207.89 L317.84,210.39 L317.35,212.84 L316.80,215.24 L316.17,217.58 L315.48,219.85 L314.72,222.05 L313.90,224.17 L313.02,226.20 L312.08,228.15 L311.08,229.99 L310.03,231.74 L308.93,233.37 L307.79,234.89 L306.60,236.30 L305.38,237.59 L304.12,238.75 L302.82,239.78 L301.50,240.68 L300.16,241.44 L298.79,242.07 L297.41,242.57 L296.01,242.92 L294.61,243.13 L293.20,243.20"/>
</g>
<path d="M60.00,245.80 L58.82,245.76 L57.65,245.64 L56.47,245.45 L55.31,245.17 L54.15,244.82 L53.00,244.40 L51.86,243.89 L50.73,243.31 L49.62,242.66 L48.52,241.93 L47.44,241.13 L46.38,240.26 L45.34,239.32 L44.33,238.31 L43.33,237.24 L42.37,236.10 L41.43,234.89 L40.52,233.63 L39.64,232.30 L38.79,230.92 L37.97,229.48 L37.19,227.99 L36.44,226.45 L35.73,224.86 L35.06,223.22 L34.42,221.54 L33.83,219.82 L33.27,218.06 L32.76,216.27 L32.28,214.44 L31.85,212.58 L31.47,210.70 L31.13,208.79 L30.83,206.86 L30.58,204.91 L30.37,202.95 L30.21,200.97 L30.09,198.99 L30.02,196.99 L30.00,195.00 L25.03,191.62 L25.11,188.25 L25.24,184.89 L25.43,181.55 L25.67,178.22 L25.97,174.92 L26.31,171.66 L26.71,168.42 L27.16,165.23 L27.66,162.09 L28.21,159.00 L28.81,155.96 L29.46,152.98 L30.16,150.07 L30.90,147.22 L31.68,144.45 L32.51,141.76 L33.39,139.15 L34.30,136.62 L35.25,134.19 L36.24,131.85 L37.27,129.61 L38.33,127.46 L39.43,125.42 L40.56,123.49 L41.71,121.67 L42.90,119.97 L44.11,118.37 L45.35,116.90 L46.61,115.55 L47.89,114.32 L49.18,113.21 L50.50,112.23 L51.83,111.38 L53.17,110.65 L54.52,110.06 L55.89,109.60 L57.25,109.27 L58.63,109.07 L60.00,109.00 C61.40,107.20 70.30,107.25 71.70,109.05 C74.04,107.25 88.86,107.77 91.20,109.57 C93.24,107.77 106.16,108.22 108.20,110.02 C110.12,108.22 122.28,108.65 124.20,110.45 C126.18,108.65 138.72,109.09 140.70,110.89 C142.80,109.09 156.10,109.55 158.20,111.35 C160.18,109.55 172.72,109.99 174.70,111.79 C176.74,109.99 189.66,110.45 191.70,112.25 C193.74,110.45 206.66,110.90 208.70,112.70 C210.74,110.90 223.66,111.24 225.70,113.04 C227.56,111.24 239.34,111.36 241.20,113.16 C243.12,111.36 255.28,111.48 257.20,113.28 C259.12,111.48 271.28,111.60 273.20,113.40 C275.12,111.60 287.28,111.72 289.20,113.52 L289.20,113.52 L290.41,113.59 L291.61,113.78 L292.82,114.11 L294.01,114.57 L295.20,115.17 L296.38,115.89 L297.55,116.74 L298.70,117.71 L299.84,118.81 L300.96,120.04 L302.06,121.39 L303.14,122.85 L304.20,124.44 L305.23,126.13 L306.24,127.94 L307.22,129.86 L308.17,131.88 L309.09,134.01 L309.98,136.24 L310.84,138.56 L311.66,140.97 L312.44,143.47 L313.18,146.05 L313.89,148.71 L314.56,151.45 L315.18,154.26 L315.76,157.13 L316.30,160.07 L316.80,163.06 L317.25,166.11 L317.66,169.20 L318.02,172.33 L318.33,175.50 L318.59,178.70 L318.81,181.93 L318.98,185.18 L319.10,188.44 L319.18,191.72 L319.20,195.00 L319.16,197.61 L319.05,200.21 L318.86,202.80 L318.59,205.36 L318.25,207.89 L317.84,210.39 L317.35,212.84 L316.80,215.24 L316.17,217.58 L315.48,219.85 L314.72,222.05 L313.90,224.17 L313.02,226.20 L312.08,228.15 L311.08,229.99 L310.03,231.74 L308.93,233.37 L307.79,234.89 L306.60,236.30 L305.38,237.59 L304.12,238.75 L302.82,239.78 L301.50,240.68 L300.16,241.44 L298.79,242.07 L297.41,242.57 L296.01,242.92 L294.61,243.13 L293.20,243.20 C291.28,246.08 279.12,246.08 277.20,243.20 C275.28,246.08 263.12,246.08 261.20,243.20 C259.28,246.08 247.12,246.08 245.20,243.20 C243.34,246.08 231.56,246.08 229.70,243.20 C227.66,246.08 214.74,246.08 212.70,243.20 C210.66,246.08 197.74,246.16 195.70,243.28 C193.66,246.16 180.74,246.48 178.70,243.60 C176.72,246.48 164.18,246.78 162.20,243.90 C160.10,246.78 146.80,247.11 144.70,244.23 C142.72,247.11 130.18,247.41 128.20,244.53 C126.28,247.41 114.12,247.71 112.20,244.83 C110.16,247.71 97.24,248.03 95.20,245.15 C92.86,248.03 78.04,248.39 75.70,245.51 C73.82,248.39 61.88,248.68 60.00,245.80 Z" fill="none" stroke="#140604" stroke-width="2.6"/>
<path d="M289.20,113.52 C290.68,111.72 300.02,111.81 301.50,113.61 L301.50,113.61 L302.71,113.68 L303.91,113.88 L305.12,114.20 L306.31,114.67 L307.50,115.26 L308.68,115.98 L309.85,116.82 L311.00,117.80 L312.14,118.90 L313.26,120.12 L314.36,121.47 L315.44,122.93 L316.50,124.52 L317.53,126.21 L318.54,128.02 L319.52,129.93 L320.47,131.96 L321.39,134.08 L322.28,136.30 L323.14,138.62 L323.96,141.03 L324.74,143.53 L325.48,146.11 L326.19,148.77 L326.86,151.50 L327.48,154.31 L328.06,157.18 L328.60,160.11 L329.10,163.10 L329.55,166.14 L329.96,169.23 L330.32,172.36 L330.63,175.52 L330.89,178.72 C331.20,184 329.50,186.00 326,186.00 L318.98,186.00 L318.98,185.18 L318.81,181.93 L318.59,178.70 L318.33,175.50 L318.02,172.33 L317.66,169.20 L317.25,166.11 L316.80,163.06 L316.30,160.07 L315.76,157.13 L315.18,154.26 L314.56,151.45 L313.89,148.71 L313.18,146.05 L312.44,143.47 L311.66,140.97 L310.84,138.56 L309.98,136.24 L309.09,134.01 L308.17,131.88 L307.22,129.86 L306.24,127.94 L305.23,126.13 L304.20,124.44 L303.14,122.85 L302.06,121.39 L300.96,120.04 L299.84,118.81 L298.70,117.71 L297.55,116.74 L296.38,115.89 L295.20,115.17 L294.01,114.57 L292.82,114.11 L291.61,113.78 L290.41,113.59 L289.20,113.52 Z" fill="none" stroke="#140604" stroke-width="2.6"/>

<!-- left teal disk -->
<path d="M38,120 H43 A43,57 0 0 1 86,177 L69,177 A25,57 0 0 1 44,234 H38 A21.5,57 0 0 1 38,120 Z" fill="#1c505e" stroke="#0c1a1c" stroke-width="2.6"/>
<ellipse cx="38" cy="176.5" rx="21.5" ry="56.5" fill="url(#teal)" stroke="#0c1a1c" stroke-width="2.6"/>

<!-- left wire -->
<rect x="69.5" y="169.5" width="20" height="14.5" rx="7" fill="#e86a2a" stroke="#140604" stroke-width="2.3"/>
<rect x="73.5" y="173" width="33" height="9.2" rx="4.6" fill="url(#wireL)" stroke="#140604" stroke-width="2.2"/>
<circle cx="101.5" cy="177.5" r="4.3" fill="#e8e8ec" stroke="#140604" stroke-width="2.1"/>

<!-- right wire -->
<rect x="321.5" y="171" width="12" height="16.5" rx="6" fill="#e2703a" stroke="#140604" stroke-width="2.2"/>
<rect x="323.5" y="172.5" width="38" height="9.5" rx="4.7" fill="url(#wireR)" stroke="#140604" stroke-width="2.2"/>
<ellipse cx="356" cy="177.3" rx="3.6" ry="4.6" fill="#e4e4e8" stroke="#140604" stroke-width="2.1"/>

<!-- permanent magnet -->
<path d="M318,271 H551 A18,50 0 0 1 551,371 L314.5,374 Z" fill="url(#greeng)"/>
<path d="M318,271 H441.5 A13,50.5 0 0 1 443,372 L314.5,374 Z" fill="url(#redg)"/>
<rect x="325" y="290" width="60" height="16" fill="url(#redfade)"/>
<rect x="332" y="334" width="70" height="6" fill="url(#redstreak2)" filter="url(#blur05)"/>
<path d="M441.5,271 A13,50.5 0 0 1 443,372" fill="none" stroke="#111" stroke-width="2.5"/>
<path d="M318,271 H551 A18,50 0 0 1 551,371 L314.5,374" fill="none" stroke="#111" stroke-width="2.5"/>
<ellipse cx="315" cy="322.5" rx="16" ry="51.5" fill="url(#greyg)" stroke="#111" stroke-width="2.6"/>
</svg>
</body></html>
